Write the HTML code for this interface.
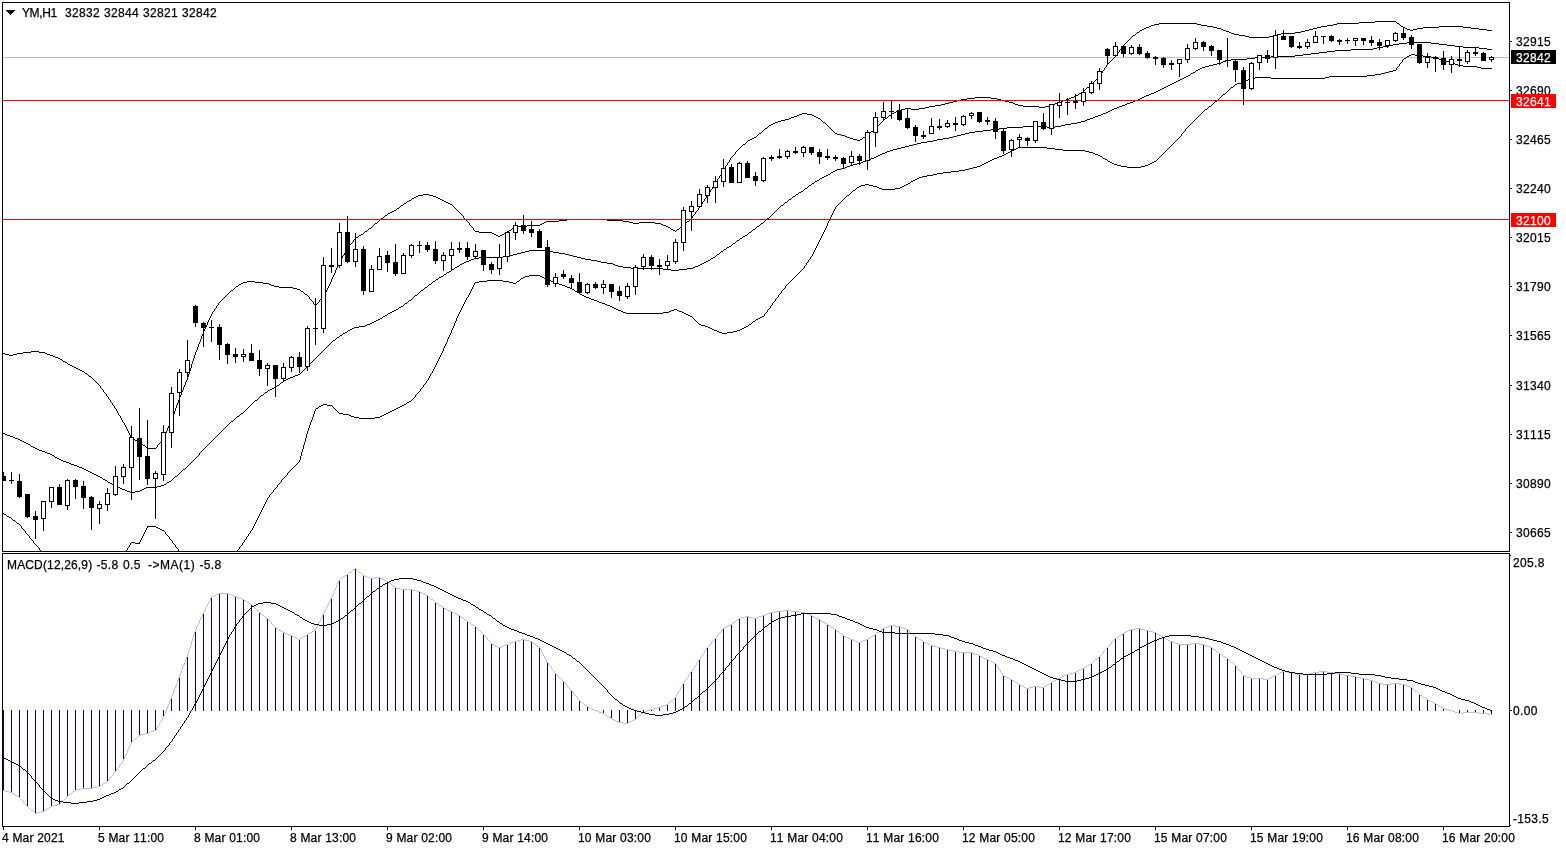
<!DOCTYPE html>
<html><head><meta charset="utf-8"><title>YM,H1</title>
<style>html,body{margin:0;padding:0;background:#fff;overflow:hidden}svg{display:block}text{font-family:"Liberation Sans",Arial,sans-serif;font-size:12px;fill:#000;stroke:#000;stroke-width:0.25px;letter-spacing:0.33px;font-kerning:none}.w{fill:#fff}</style></head><body>
<svg width="1566" height="850" viewBox="0 0 1566 850" shape-rendering="crispEdges">
<rect width="1566" height="850" fill="#fff"/>
<defs><clipPath id="cm"><rect x="3" y="3" width="1506" height="548"/></clipPath><clipPath id="ci"><rect x="3" y="554" width="1506" height="272"/></clipPath></defs>
<rect x="3" y="57" width="1506" height="1" fill="#c0c0c0"/>
<g clip-path="url(#cm)">
<path d="M3 353h2v1h-2zM5 354h4v1h-4zM9 355h3v1h-3zM11 355h2v1h-2zM13 354h4v1h-4zM17 353h3v1h-3zM19 353h4v1h-4zM23 352h5v1h-5zM27 352h4v1h-4zM31 351h5v1h-5zM35 351h4v1h-4zM39 352h5v1h-5zM43 352h2v1h-2zM45 353h2v1h-2zM47 354h3v1h-3zM50 355h2v1h-2zM51 355h2v1h-2zM53 356h2v1h-2zM55 357h3v1h-3zM58 358h2v1h-2zM59 358h1v1h-1zM60 359h2v1h-2zM62 360h1v1h-1zM63 361h2v1h-2zM65 362h2v1h-2zM67 363h1v1h-1zM67 363h1v1h-1zM68 364h2v1h-2zM70 365h2v1h-2zM72 366h2v1h-2zM74 367h2v1h-2zM75 367h1v1h-1zM76 368h2v1h-2zM78 369h2v1h-2zM80 370h2v1h-2zM82 371h2v1h-2zM83 371h1v1h-1zM84 372h1v1h-1zM85 373h2v1h-2zM87 374h1v1h-1zM88 375h1v1h-1zM89 376h2v1h-2zM91 377h1v1h-1zM91 377h1v1h-1zM92 378h1v1h-1zM93 379h1v1h-1zM94 380h1v1h-1zM95 381h1v1h-1zM96 382h1v1h-1zM97 383h1v1h-1zM98 384h1v1h-1zM99 385h1v1h-1zM99 385h1v1h-1zM100 386h1v2h-1zM101 388h1v1h-1zM102 389h1v1h-1zM103 390h1v2h-1zM104 392h1v1h-1zM105 393h1v1h-1zM106 394h1v2h-1zM107 396h1v1h-1zM107 396h1v1h-1zM108 397h1v2h-1zM109 399h1v1h-1zM110 400h1v2h-1zM111 402h1v1h-1zM112 403h1v2h-1zM113 405h1v1h-1zM114 406h1v2h-1zM115 408h1v1h-1zM115 408h1v1h-1zM116 409h1v2h-1zM117 411h1v2h-1zM118 413h1v2h-1zM119 415h1v1h-1zM120 416h1v2h-1zM121 418h1v2h-1zM122 420h1v2h-1zM123 422h1v1h-1zM123 422h1v1h-1zM124 423h1v2h-1zM125 425h1v2h-1zM126 427h1v2h-1zM127 429h1v2h-1zM128 431h1v2h-1zM129 433h1v2h-1zM130 435h1v2h-1zM131 437h1v2h-1zM131 438h2v1h-2zM133 439h2v1h-2zM135 440h3v1h-3zM138 441h2v1h-2zM139 441h1v1h-1zM140 442h1v1h-1zM141 443h1v1h-1zM142 444h1v1h-1zM143 445h2v1h-2zM145 446h1v1h-1zM146 447h1v1h-1zM147 448h1v1h-1zM147 448h9v1h-9zM155 448h1v1h-1zM156 447h1v1h-1zM157 445h1v2h-1zM158 444h1v1h-1zM159 443h1v1h-1zM160 442h1v1h-1zM161 440h1v2h-1zM162 439h1v1h-1zM163 438h1v1h-1zM163 437h1v2h-1zM164 435h1v2h-1zM165 433h1v2h-1zM166 431h1v2h-1zM167 428h1v3h-1zM168 426h1v2h-1zM169 424h1v2h-1zM170 422h1v2h-1zM171 420h1v2h-1zM171 419h1v2h-1zM172 416h1v3h-1zM173 414h1v2h-1zM174 411h1v3h-1zM175 408h1v3h-1zM176 405h1v3h-1zM177 403h1v2h-1zM178 400h1v3h-1zM179 398h1v2h-1zM179 397h1v2h-1zM180 395h1v2h-1zM181 392h1v3h-1zM182 390h1v2h-1zM183 387h1v3h-1zM184 385h1v2h-1zM185 382h1v3h-1zM186 380h1v2h-1zM187 378h1v2h-1zM187 377h1v2h-1zM188 374h1v3h-1zM189 371h1v3h-1zM190 368h1v3h-1zM191 364h1v4h-1zM192 361h1v3h-1zM193 358h1v3h-1zM194 355h1v3h-1zM195 353h1v2h-1zM195 352h1v2h-1zM196 350h1v2h-1zM197 347h1v3h-1zM198 344h1v3h-1zM199 342h1v2h-1zM200 339h1v3h-1zM201 336h1v3h-1zM202 334h1v2h-1zM203 332h1v2h-1zM203 331h1v2h-1zM204 329h1v2h-1zM205 327h1v2h-1zM206 325h1v2h-1zM207 322h1v3h-1zM208 320h1v2h-1zM209 318h1v2h-1zM210 316h1v2h-1zM211 314h1v2h-1zM211 314h1v1h-1zM212 312h1v2h-1zM213 311h1v1h-1zM214 309h1v2h-1zM215 308h1v1h-1zM216 306h1v2h-1zM217 305h1v1h-1zM218 303h1v2h-1zM219 302h1v1h-1zM219 302h1v1h-1zM220 301h1v1h-1zM221 300h1v1h-1zM222 299h1v1h-1zM223 298h1v1h-1zM224 297h1v1h-1zM225 296h1v1h-1zM226 295h1v1h-1zM227 294h1v1h-1zM227 294h1v1h-1zM228 293h1v1h-1zM229 292h1v1h-1zM230 291h1v1h-1zM231 290h2v1h-2zM233 289h1v1h-1zM234 288h1v1h-1zM235 287h1v1h-1zM235 287h1v1h-1zM236 286h2v1h-2zM238 285h1v1h-1zM239 284h2v1h-2zM241 283h2v1h-2zM243 282h1v1h-1zM243 282h4v1h-4zM247 281h5v1h-5zM251 281h4v1h-4zM255 282h5v1h-5zM259 282h4v1h-4zM263 283h5v1h-5zM267 283h2v1h-2zM269 284h2v1h-2zM271 285h3v1h-3zM274 286h2v1h-2zM275 286h4v1h-4zM279 287h5v1h-5zM283 287h9v1h-9zM291 287h2v1h-2zM293 288h4v1h-4zM297 289h3v1h-3zM299 289h1v1h-1zM300 290h1v1h-1zM301 291h2v1h-2zM303 292h1v1h-1zM304 293h1v1h-1zM305 294h2v1h-2zM307 295h1v1h-1zM307 295h1v1h-1zM308 296h1v1h-1zM309 297h1v2h-1zM310 299h1v1h-1zM311 300h1v1h-1zM312 301h1v1h-1zM313 302h1v2h-1zM314 304h1v1h-1zM315 305h1v1h-1zM315 305h1v1h-1zM316 304h1v1h-1zM317 303h1v1h-1zM318 302h1v1h-1zM319 300h1v2h-1zM320 299h1v1h-1zM321 298h1v1h-1zM322 297h1v1h-1zM323 296h1v1h-1zM323 296h1v1h-1zM324 294h1v2h-1zM325 292h1v2h-1zM326 290h1v2h-1zM327 288h1v2h-1zM328 286h1v2h-1zM329 284h1v2h-1zM330 282h1v2h-1zM331 280h1v2h-1zM331 279h1v2h-1zM332 277h1v2h-1zM333 275h1v2h-1zM334 273h1v2h-1zM335 270h1v3h-1zM336 268h1v2h-1zM337 266h1v2h-1zM338 264h1v2h-1zM339 262h1v2h-1zM339 262h1v1h-1zM340 260h1v2h-1zM341 258h1v2h-1zM342 256h1v2h-1zM343 255h1v1h-1zM344 253h1v2h-1zM345 251h1v2h-1zM346 249h1v2h-1zM347 248h1v1h-1zM347 248h1v1h-1zM348 247h1v1h-1zM349 245h1v2h-1zM350 244h1v1h-1zM351 243h1v1h-1zM352 242h1v1h-1zM353 240h1v2h-1zM354 239h1v1h-1zM355 238h1v1h-1zM355 238h1v1h-1zM356 237h2v1h-2zM358 236h1v1h-1zM359 235h2v1h-2zM361 234h2v1h-2zM363 233h1v1h-1zM363 233h1v1h-1zM364 232h1v1h-1zM365 231h2v1h-2zM367 230h1v1h-1zM368 229h1v1h-1zM369 228h2v1h-2zM371 227h1v1h-1zM371 227h1v1h-1zM372 226h1v1h-1zM373 225h1v1h-1zM374 224h1v1h-1zM375 223h2v1h-2zM377 222h1v1h-1zM378 221h1v1h-1zM379 220h1v1h-1zM379 220h1v1h-1zM380 219h1v1h-1zM381 218h2v1h-2zM383 217h1v1h-1zM384 216h1v1h-1zM385 215h2v1h-2zM387 214h1v1h-1zM387 214h1v1h-1zM388 213h2v1h-2zM390 212h2v1h-2zM392 211h2v1h-2zM394 210h2v1h-2zM395 210h1v1h-1zM396 209h1v1h-1zM397 208h2v1h-2zM399 207h1v1h-1zM400 206h1v1h-1zM401 205h2v1h-2zM403 204h1v1h-1zM403 204h1v1h-1zM404 203h2v1h-2zM406 202h1v1h-1zM407 201h2v1h-2zM409 200h2v1h-2zM411 199h1v1h-1zM411 199h1v1h-1zM412 198h2v1h-2zM414 197h2v1h-2zM416 196h2v1h-2zM418 195h2v1h-2zM419 195h4v1h-4zM423 194h5v1h-5zM427 194h2v1h-2zM429 195h4v1h-4zM433 196h3v1h-3zM435 196h1v1h-1zM436 197h2v1h-2zM438 198h2v1h-2zM440 199h2v1h-2zM442 200h2v1h-2zM443 200h1v1h-1zM444 201h2v1h-2zM446 202h2v1h-2zM448 203h2v1h-2zM450 204h2v1h-2zM451 204h1v1h-1zM452 205h1v1h-1zM453 206h1v1h-1zM454 207h1v1h-1zM455 208h1v1h-1zM456 209h1v1h-1zM457 210h1v1h-1zM458 211h1v1h-1zM459 212h1v1h-1zM459 212h1v1h-1zM460 213h1v1h-1zM461 214h1v1h-1zM462 215h1v1h-1zM463 216h1v2h-1zM464 218h1v1h-1zM465 219h1v1h-1zM466 220h1v1h-1zM467 221h1v1h-1zM467 221h1v1h-1zM468 222h1v1h-1zM469 223h1v2h-1zM470 225h1v1h-1zM471 226h1v1h-1zM472 227h1v1h-1zM473 228h1v2h-1zM474 230h1v1h-1zM475 231h1v1h-1zM475 231h4v1h-4zM479 232h5v1h-5zM483 232h9v1h-9zM491 232h1v1h-1zM492 233h2v1h-2zM494 234h2v1h-2zM496 235h2v1h-2zM498 236h2v1h-2zM499 236h1v1h-1zM500 235h2v1h-2zM502 234h2v1h-2zM504 233h2v1h-2zM506 232h2v1h-2zM507 232h1v1h-1zM508 231h1v1h-1zM509 230h2v1h-2zM511 229h1v1h-1zM512 228h1v1h-1zM513 227h2v1h-2zM515 226h1v1h-1zM515 226h9v1h-9zM523 226h4v1h-4zM527 225h5v1h-5zM531 225h9v1h-9zM539 225h1v1h-1zM540 224h2v1h-2zM542 223h2v1h-2zM544 222h2v1h-2zM546 221h2v1h-2zM547 221h9v1h-9zM555 221h4v1h-4zM559 220h5v1h-5zM563 220h4v1h-4zM567 219h5v1h-5zM571 219h9v1h-9zM579 219h9v1h-9zM587 219h9v1h-9zM595 219h9v1h-9zM603 219h4v1h-4zM607 220h5v1h-5zM611 220h9v1h-9zM619 220h4v1h-4zM623 221h5v1h-5zM627 221h2v1h-2zM629 222h4v1h-4zM633 223h3v1h-3zM635 223h4v1h-4zM639 222h5v1h-5zM643 222h9v1h-9zM651 222h4v1h-4zM655 223h5v1h-5zM659 223h2v1h-2zM661 224h2v1h-2zM663 225h3v1h-3zM666 226h2v1h-2zM667 226h1v1h-1zM668 227h2v1h-2zM670 228h1v1h-1zM671 229h2v1h-2zM673 230h2v1h-2zM675 231h1v1h-1zM675 231h1v1h-1zM676 230h1v1h-1zM677 229h2v1h-2zM679 228h1v1h-1zM680 227h1v1h-1zM681 226h2v1h-2zM683 225h1v1h-1zM683 225h1v1h-1zM684 224h1v1h-1zM685 223h1v1h-1zM686 222h1v1h-1zM687 221h2v1h-2zM689 220h1v1h-1zM690 219h1v1h-1zM691 218h1v1h-1zM691 218h1v1h-1zM692 216h1v2h-1zM693 215h1v1h-1zM694 214h1v1h-1zM695 212h1v2h-1zM696 211h1v1h-1zM697 210h1v1h-1zM698 208h1v2h-1zM699 207h1v1h-1zM699 207h1v1h-1zM700 205h1v2h-1zM701 204h1v1h-1zM702 202h1v2h-1zM703 201h1v1h-1zM704 199h1v2h-1zM705 198h1v1h-1zM706 196h1v2h-1zM707 195h1v1h-1zM707 195h1v1h-1zM708 193h1v2h-1zM709 192h1v1h-1zM710 190h1v2h-1zM711 189h1v1h-1zM712 187h1v2h-1zM713 186h1v1h-1zM714 184h1v2h-1zM715 183h1v1h-1zM715 183h1v1h-1zM716 181h1v2h-1zM717 179h1v2h-1zM718 178h1v1h-1zM719 176h1v2h-1zM720 175h1v1h-1zM721 173h1v2h-1zM722 171h1v2h-1zM723 170h1v1h-1zM723 170h1v1h-1zM724 168h1v2h-1zM725 166h1v2h-1zM726 165h1v1h-1zM727 163h1v2h-1zM728 162h1v1h-1zM729 160h1v2h-1zM730 158h1v2h-1zM731 157h1v1h-1zM731 157h1v1h-1zM732 156h1v1h-1zM733 155h1v1h-1zM734 154h1v1h-1zM735 152h1v2h-1zM736 151h1v1h-1zM737 150h1v1h-1zM738 149h1v1h-1zM739 148h1v1h-1zM739 148h1v1h-1zM740 147h1v1h-1zM741 146h1v1h-1zM742 145h1v1h-1zM743 144h2v1h-2zM745 143h1v1h-1zM746 142h1v1h-1zM747 141h1v1h-1zM747 141h1v1h-1zM748 140h2v1h-2zM750 139h2v1h-2zM752 138h2v1h-2zM754 137h2v1h-2zM755 137h1v1h-1zM756 136h1v1h-1zM757 135h1v1h-1zM758 134h1v1h-1zM759 133h2v1h-2zM761 132h1v1h-1zM762 131h1v1h-1zM763 130h1v1h-1zM763 130h1v1h-1zM764 129h1v1h-1zM765 128h2v1h-2zM767 127h1v1h-1zM768 126h1v1h-1zM769 125h2v1h-2zM771 124h1v1h-1zM771 124h2v1h-2zM773 123h2v1h-2zM775 122h3v1h-3zM778 121h2v1h-2zM779 121h2v1h-2zM781 120h4v1h-4zM785 119h3v1h-3zM787 119h2v1h-2zM789 118h2v1h-2zM791 117h3v1h-3zM794 116h2v1h-2zM795 116h2v1h-2zM797 115h2v1h-2zM799 114h3v1h-3zM802 113h2v1h-2zM803 113h4v1h-4zM807 114h5v1h-5zM811 114h1v1h-1zM812 115h2v1h-2zM814 116h2v1h-2zM816 117h2v1h-2zM818 118h2v1h-2zM819 118h1v1h-1zM820 119h1v1h-1zM821 120h1v1h-1zM822 121h1v1h-1zM823 122h2v1h-2zM825 123h1v1h-1zM826 124h1v1h-1zM827 125h1v1h-1zM827 125h1v1h-1zM828 126h1v1h-1zM829 127h1v1h-1zM830 128h1v1h-1zM831 129h1v1h-1zM832 130h1v1h-1zM833 131h1v1h-1zM834 132h1v1h-1zM835 133h1v1h-1zM835 133h2v1h-2zM837 134h4v1h-4zM841 135h3v1h-3zM843 135h2v1h-2zM845 136h2v1h-2zM847 137h3v1h-3zM850 138h2v1h-2zM851 138h2v1h-2zM853 139h4v1h-4zM857 140h3v1h-3zM859 140h1v1h-1zM860 139h2v1h-2zM862 138h1v1h-1zM863 137h2v1h-2zM865 136h2v1h-2zM867 135h1v1h-1zM867 135h1v1h-1zM868 134h1v1h-1zM869 133h1v1h-1zM870 132h1v1h-1zM871 131h2v1h-2zM873 130h1v1h-1zM874 129h1v1h-1zM875 128h1v1h-1zM875 128h1v1h-1zM876 127h1v1h-1zM877 126h1v1h-1zM878 125h1v1h-1zM879 124h1v1h-1zM880 123h1v1h-1zM881 122h1v1h-1zM882 121h1v1h-1zM883 120h1v1h-1zM883 120h1v1h-1zM884 119h1v1h-1zM885 118h2v1h-2zM887 117h1v1h-1zM888 116h1v1h-1zM889 115h2v1h-2zM891 114h1v1h-1zM891 114h1v1h-1zM892 113h2v1h-2zM894 112h2v1h-2zM896 111h2v1h-2zM898 110h2v1h-2zM899 110h2v1h-2zM901 109h4v1h-4zM905 108h3v1h-3zM907 108h4v1h-4zM911 109h5v1h-5zM915 109h4v1h-4zM919 108h5v1h-5zM923 108h2v1h-2zM925 107h4v1h-4zM929 106h3v1h-3zM931 106h4v1h-4zM935 105h5v1h-5zM939 105h2v1h-2zM941 104h4v1h-4zM945 103h3v1h-3zM947 103h2v1h-2zM949 102h4v1h-4zM953 101h3v1h-3zM955 101h2v1h-2zM957 100h4v1h-4zM961 99h3v1h-3zM963 99h4v1h-4zM967 98h5v1h-5zM971 98h4v1h-4zM975 97h5v1h-5zM979 97h9v1h-9zM987 97h4v1h-4zM991 98h5v1h-5zM995 98h2v1h-2zM997 99h4v1h-4zM1001 100h3v1h-3zM1003 100h2v1h-2zM1005 101h4v1h-4zM1009 102h3v1h-3zM1011 102h2v1h-2zM1013 103h2v1h-2zM1015 104h3v1h-3zM1018 105h2v1h-2zM1019 105h4v1h-4zM1023 106h5v1h-5zM1027 106h9v1h-9zM1035 106h4v1h-4zM1039 107h5v1h-5zM1043 107h2v1h-2zM1045 106h4v1h-4zM1049 105h3v1h-3zM1051 105h2v1h-2zM1053 104h2v1h-2zM1055 103h3v1h-3zM1058 102h2v1h-2zM1059 102h2v1h-2zM1061 101h2v1h-2zM1063 100h3v1h-3zM1066 99h2v1h-2zM1067 99h2v1h-2zM1069 98h2v1h-2zM1071 97h3v1h-3zM1074 96h2v1h-2zM1075 96h1v1h-1zM1076 95h2v1h-2zM1078 94h1v1h-1zM1079 93h2v1h-2zM1081 92h2v1h-2zM1083 91h1v1h-1zM1083 91h1v1h-1zM1084 90h1v1h-1zM1085 89h1v1h-1zM1086 88h1v1h-1zM1087 87h2v1h-2zM1089 86h1v1h-1zM1090 85h1v1h-1zM1091 84h1v1h-1zM1091 84h1v1h-1zM1092 83h1v1h-1zM1093 82h1v1h-1zM1094 81h1v1h-1zM1095 80h1v1h-1zM1096 79h1v1h-1zM1097 78h1v1h-1zM1098 77h1v1h-1zM1099 76h1v1h-1zM1099 76h1v1h-1zM1100 74h1v2h-1zM1101 73h1v1h-1zM1102 71h1v2h-1zM1103 70h1v1h-1zM1104 68h1v2h-1zM1105 67h1v1h-1zM1106 65h1v2h-1zM1107 64h1v1h-1zM1107 64h1v1h-1zM1108 63h1v1h-1zM1109 62h1v1h-1zM1110 61h1v1h-1zM1111 60h1v1h-1zM1112 59h1v1h-1zM1113 58h1v1h-1zM1114 57h1v1h-1zM1115 56h1v1h-1zM1115 56h1v1h-1zM1116 54h1v2h-1zM1117 53h1v1h-1zM1118 52h1v1h-1zM1119 50h1v2h-1zM1120 49h1v1h-1zM1121 48h1v1h-1zM1122 46h1v2h-1zM1123 45h1v1h-1zM1123 45h1v1h-1zM1124 44h1v1h-1zM1125 43h1v1h-1zM1126 42h1v1h-1zM1127 41h1v1h-1zM1128 40h1v1h-1zM1129 39h1v1h-1zM1130 38h1v1h-1zM1131 37h1v1h-1zM1131 37h1v1h-1zM1132 36h1v1h-1zM1133 35h2v1h-2zM1135 34h1v1h-1zM1136 33h1v1h-1zM1137 32h2v1h-2zM1139 31h1v1h-1zM1139 31h1v1h-1zM1140 30h2v1h-2zM1142 29h2v1h-2zM1144 28h2v1h-2zM1146 27h2v1h-2zM1147 27h2v1h-2zM1149 26h2v1h-2zM1151 25h3v1h-3zM1154 24h2v1h-2zM1155 24h4v1h-4zM1159 23h5v1h-5zM1163 23h9v1h-9zM1171 23h9v1h-9zM1179 23h9v1h-9zM1187 23h9v1h-9zM1195 23h2v1h-2zM1197 24h4v1h-4zM1201 25h3v1h-3zM1203 25h4v1h-4zM1207 26h5v1h-5zM1211 26h2v1h-2zM1213 27h4v1h-4zM1217 28h3v1h-3zM1219 28h2v1h-2zM1221 29h2v1h-2zM1223 30h3v1h-3zM1226 31h2v1h-2zM1227 31h2v1h-2zM1229 32h2v1h-2zM1231 33h3v1h-3zM1234 34h2v1h-2zM1235 34h4v1h-4zM1239 35h5v1h-5zM1243 35h2v1h-2zM1245 36h4v1h-4zM1249 37h3v1h-3zM1251 37h9v1h-9zM1259 37h9v1h-9zM1267 37h2v1h-2zM1269 36h4v1h-4zM1273 35h3v1h-3zM1275 35h2v1h-2zM1277 34h4v1h-4zM1281 33h3v1h-3zM1283 33h9v1h-9zM1291 33h4v1h-4zM1295 32h5v1h-5zM1299 32h2v1h-2zM1301 31h4v1h-4zM1305 30h3v1h-3zM1307 30h2v1h-2zM1309 29h4v1h-4zM1313 28h3v1h-3zM1315 28h2v1h-2zM1317 27h4v1h-4zM1321 26h3v1h-3zM1323 26h4v1h-4zM1327 25h5v1h-5zM1331 25h2v1h-2zM1333 24h4v1h-4zM1337 23h3v1h-3zM1339 23h9v1h-9zM1347 23h9v1h-9zM1355 23h4v1h-4zM1359 22h5v1h-5zM1363 22h9v1h-9zM1371 22h4v1h-4zM1375 21h5v1h-5zM1379 21h9v1h-9zM1387 21h9v1h-9zM1395 21h1v1h-1zM1396 22h1v1h-1zM1397 23h2v1h-2zM1399 24h1v1h-1zM1400 25h1v1h-1zM1401 26h2v1h-2zM1403 27h1v1h-1zM1403 27h2v1h-2zM1405 28h2v1h-2zM1407 29h3v1h-3zM1410 30h2v1h-2zM1411 30h2v1h-2zM1413 29h4v1h-4zM1417 28h3v1h-3zM1419 28h4v1h-4zM1423 27h5v1h-5zM1427 27h9v1h-9zM1435 27h4v1h-4zM1439 26h5v1h-5zM1443 26h9v1h-9zM1451 26h9v1h-9zM1459 26h4v1h-4zM1463 27h5v1h-5zM1467 27h4v1h-4zM1471 28h5v1h-5zM1475 28h4v1h-4zM1479 29h5v1h-5zM1483 29h4v1h-4zM1487 30h5v1h-5z" fill="#000"/>
<path d="M3 433h2v1h-2zM5 434h2v1h-2zM7 435h3v1h-3zM10 436h2v1h-2zM11 436h2v1h-2zM13 437h2v1h-2zM15 438h3v1h-3zM18 439h2v1h-2zM19 439h1v1h-1zM20 440h2v1h-2zM22 441h2v1h-2zM24 442h2v1h-2zM26 443h2v1h-2zM27 443h1v1h-1zM28 444h2v1h-2zM30 445h1v1h-1zM31 446h2v1h-2zM33 447h2v1h-2zM35 448h1v1h-1zM35 448h2v1h-2zM37 449h2v1h-2zM39 450h3v1h-3zM42 451h2v1h-2zM43 451h2v1h-2zM45 452h2v1h-2zM47 453h3v1h-3zM50 454h2v1h-2zM51 454h1v1h-1zM52 455h2v1h-2zM54 456h1v1h-1zM55 457h2v1h-2zM57 458h2v1h-2zM59 459h1v1h-1zM59 459h2v1h-2zM61 460h2v1h-2zM63 461h3v1h-3zM66 462h2v1h-2zM67 462h2v1h-2zM69 463h2v1h-2zM71 464h3v1h-3zM74 465h2v1h-2zM75 465h2v1h-2zM77 466h2v1h-2zM79 467h3v1h-3zM82 468h2v1h-2zM83 468h1v1h-1zM84 469h2v1h-2zM86 470h2v1h-2zM88 471h2v1h-2zM90 472h2v1h-2zM91 472h1v1h-1zM92 473h2v1h-2zM94 474h2v1h-2zM96 475h2v1h-2zM98 476h2v1h-2zM99 476h1v1h-1zM100 477h2v1h-2zM102 478h1v1h-1zM103 479h2v1h-2zM105 480h2v1h-2zM107 481h1v1h-1zM107 481h1v1h-1zM108 482h2v1h-2zM110 483h2v1h-2zM112 484h2v1h-2zM114 485h2v1h-2zM115 485h1v1h-1zM116 486h2v1h-2zM118 487h2v1h-2zM120 488h2v1h-2zM122 489h2v1h-2zM123 489h2v1h-2zM125 490h2v1h-2zM127 491h3v1h-3zM130 492h2v1h-2zM131 492h4v1h-4zM135 491h5v1h-5zM139 491h1v1h-1zM140 490h2v1h-2zM142 489h2v1h-2zM144 488h2v1h-2zM146 487h2v1h-2zM147 487h9v1h-9zM155 487h2v1h-2zM157 486h4v1h-4zM161 485h3v1h-3zM163 485h1v1h-1zM164 484h2v1h-2zM166 483h1v1h-1zM167 482h2v1h-2zM169 481h2v1h-2zM171 480h1v1h-1zM171 480h1v1h-1zM172 479h1v1h-1zM173 478h1v1h-1zM174 477h1v1h-1zM175 476h2v1h-2zM177 475h1v1h-1zM178 474h1v1h-1zM179 473h1v1h-1zM179 473h1v1h-1zM180 472h1v1h-1zM181 471h1v1h-1zM182 470h1v1h-1zM183 469h2v1h-2zM185 468h1v1h-1zM186 467h1v1h-1zM187 466h1v1h-1zM187 466h1v1h-1zM188 465h1v1h-1zM189 464h1v1h-1zM190 463h1v1h-1zM191 462h1v1h-1zM192 461h1v1h-1zM193 460h1v1h-1zM194 459h1v1h-1zM195 458h1v1h-1zM195 458h1v1h-1zM196 457h1v1h-1zM197 456h1v1h-1zM198 455h1v1h-1zM199 453h1v2h-1zM200 452h1v1h-1zM201 451h1v1h-1zM202 450h1v1h-1zM203 449h1v1h-1zM203 449h1v1h-1zM204 448h1v1h-1zM205 447h1v1h-1zM206 446h1v1h-1zM207 445h1v1h-1zM208 444h1v1h-1zM209 443h1v1h-1zM210 442h1v1h-1zM211 441h1v1h-1zM211 441h1v1h-1zM212 440h1v1h-1zM213 439h1v1h-1zM214 438h1v1h-1zM215 437h1v1h-1zM216 436h1v1h-1zM217 435h1v1h-1zM218 434h1v1h-1zM219 433h1v1h-1zM219 433h1v1h-1zM220 432h1v1h-1zM221 431h1v1h-1zM222 430h1v1h-1zM223 429h1v1h-1zM224 428h1v1h-1zM225 427h1v1h-1zM226 426h1v1h-1zM227 425h1v1h-1zM227 425h1v1h-1zM228 424h1v1h-1zM229 423h1v1h-1zM230 422h1v1h-1zM231 421h2v1h-2zM233 420h1v1h-1zM234 419h1v1h-1zM235 418h1v1h-1zM235 418h1v1h-1zM236 417h1v1h-1zM237 416h2v1h-2zM239 415h1v1h-1zM240 414h1v1h-1zM241 413h2v1h-2zM243 412h1v1h-1zM243 412h1v1h-1zM244 411h1v1h-1zM245 410h1v1h-1zM246 409h1v1h-1zM247 408h1v1h-1zM248 407h1v1h-1zM249 406h1v1h-1zM250 405h1v1h-1zM251 404h1v1h-1zM251 404h1v1h-1zM252 403h1v1h-1zM253 402h1v1h-1zM254 401h1v1h-1zM255 400h2v1h-2zM257 399h1v1h-1zM258 398h1v1h-1zM259 397h1v1h-1zM259 397h1v1h-1zM260 396h1v1h-1zM261 395h2v1h-2zM263 394h1v1h-1zM264 393h1v1h-1zM265 392h2v1h-2zM267 391h1v1h-1zM267 391h1v1h-1zM268 390h2v1h-2zM270 389h2v1h-2zM272 388h2v1h-2zM274 387h2v1h-2zM275 387h1v1h-1zM276 386h1v1h-1zM277 385h2v1h-2zM279 384h1v1h-1zM280 383h1v1h-1zM281 382h2v1h-2zM283 381h1v1h-1zM283 381h1v1h-1zM284 380h2v1h-2zM286 379h2v1h-2zM288 378h2v1h-2zM290 377h2v1h-2zM291 377h2v1h-2zM293 376h2v1h-2zM295 375h3v1h-3zM298 374h2v1h-2zM299 374h1v1h-1zM300 373h1v1h-1zM301 372h1v1h-1zM302 371h1v1h-1zM303 370h1v1h-1zM304 369h1v1h-1zM305 368h1v1h-1zM306 367h1v1h-1zM307 366h1v1h-1zM307 366h1v1h-1zM308 365h1v1h-1zM309 364h1v1h-1zM310 363h1v1h-1zM311 362h1v1h-1zM312 361h1v1h-1zM313 360h1v1h-1zM314 359h1v1h-1zM315 358h1v1h-1zM315 358h1v1h-1zM316 357h1v1h-1zM317 356h1v1h-1zM318 355h1v1h-1zM319 354h1v1h-1zM320 353h1v1h-1zM321 352h1v1h-1zM322 351h1v1h-1zM323 350h1v1h-1zM323 350h1v1h-1zM324 349h1v1h-1zM325 348h1v1h-1zM326 347h1v1h-1zM327 346h1v1h-1zM328 345h1v1h-1zM329 344h1v1h-1zM330 343h1v1h-1zM331 342h1v1h-1zM331 342h1v1h-1zM332 341h1v1h-1zM333 340h2v1h-2zM335 339h1v1h-1zM336 338h1v1h-1zM337 337h2v1h-2zM339 336h1v1h-1zM339 336h1v1h-1zM340 335h2v1h-2zM342 334h1v1h-1zM343 333h2v1h-2zM345 332h2v1h-2zM347 331h1v1h-1zM347 331h1v1h-1zM348 330h2v1h-2zM350 329h2v1h-2zM352 328h2v1h-2zM354 327h2v1h-2zM355 327h4v1h-4zM359 326h5v1h-5zM363 326h2v1h-2zM365 325h2v1h-2zM367 324h3v1h-3zM370 323h2v1h-2zM371 323h1v1h-1zM372 322h2v1h-2zM374 321h2v1h-2zM376 320h2v1h-2zM378 319h2v1h-2zM379 319h1v1h-1zM380 318h2v1h-2zM382 317h1v1h-1zM383 316h2v1h-2zM385 315h2v1h-2zM387 314h1v1h-1zM387 314h1v1h-1zM388 313h2v1h-2zM390 312h2v1h-2zM392 311h2v1h-2zM394 310h2v1h-2zM395 310h1v1h-1zM396 309h2v1h-2zM398 308h1v1h-1zM399 307h2v1h-2zM401 306h2v1h-2zM403 305h1v1h-1zM403 305h1v1h-1zM404 304h1v1h-1zM405 303h2v1h-2zM407 302h1v1h-1zM408 301h1v1h-1zM409 300h2v1h-2zM411 299h1v1h-1zM411 299h1v1h-1zM412 298h1v1h-1zM413 297h1v1h-1zM414 296h1v1h-1zM415 295h2v1h-2zM417 294h1v1h-1zM418 293h1v1h-1zM419 292h1v1h-1zM419 292h1v1h-1zM420 291h1v1h-1zM421 290h2v1h-2zM423 289h1v1h-1zM424 288h1v1h-1zM425 287h2v1h-2zM427 286h1v1h-1zM427 286h1v1h-1zM428 285h1v1h-1zM429 284h2v1h-2zM431 283h1v1h-1zM432 282h1v1h-1zM433 281h2v1h-2zM435 280h1v1h-1zM435 280h1v1h-1zM436 279h2v1h-2zM438 278h1v1h-1zM439 277h2v1h-2zM441 276h2v1h-2zM443 275h1v1h-1zM443 275h1v1h-1zM444 274h2v1h-2zM446 273h1v1h-1zM447 272h2v1h-2zM449 271h2v1h-2zM451 270h1v1h-1zM451 270h1v1h-1zM452 269h2v1h-2zM454 268h1v1h-1zM455 267h2v1h-2zM457 266h2v1h-2zM459 265h1v1h-1zM459 265h1v1h-1zM460 264h2v1h-2zM462 263h2v1h-2zM464 262h2v1h-2zM466 261h2v1h-2zM467 261h2v1h-2zM469 260h2v1h-2zM471 259h3v1h-3zM474 258h2v1h-2zM475 258h4v1h-4zM479 257h5v1h-5zM483 257h9v1h-9zM491 257h9v1h-9zM499 257h4v1h-4zM503 256h5v1h-5zM507 256h2v1h-2zM509 255h4v1h-4zM513 254h3v1h-3zM515 254h2v1h-2zM517 253h4v1h-4zM521 252h3v1h-3zM523 252h2v1h-2zM525 251h4v1h-4zM529 250h3v1h-3zM531 250h9v1h-9zM539 250h9v1h-9zM547 250h2v1h-2zM549 251h4v1h-4zM553 252h3v1h-3zM555 252h4v1h-4zM559 253h5v1h-5zM563 253h2v1h-2zM565 254h4v1h-4zM569 255h3v1h-3zM571 255h2v1h-2zM573 256h4v1h-4zM577 257h3v1h-3zM579 257h2v1h-2zM581 258h4v1h-4zM585 259h3v1h-3zM587 259h4v1h-4zM591 260h5v1h-5zM595 260h2v1h-2zM597 261h4v1h-4zM601 262h3v1h-3zM603 262h4v1h-4zM607 263h5v1h-5zM611 263h2v1h-2zM613 264h2v1h-2zM615 265h3v1h-3zM618 266h2v1h-2zM619 266h4v1h-4zM623 267h5v1h-5zM627 267h4v1h-4zM631 268h5v1h-5zM635 268h9v1h-9zM643 268h9v1h-9zM651 268h9v1h-9zM659 268h4v1h-4zM663 269h5v1h-5zM667 269h4v1h-4zM671 270h5v1h-5zM675 270h4v1h-4zM679 269h5v1h-5zM683 269h4v1h-4zM687 268h5v1h-5zM691 268h2v1h-2zM693 267h2v1h-2zM695 266h3v1h-3zM698 265h2v1h-2zM699 265h1v1h-1zM700 264h2v1h-2zM702 263h2v1h-2zM704 262h2v1h-2zM706 261h2v1h-2zM707 261h1v1h-1zM708 260h2v1h-2zM710 259h1v1h-1zM711 258h2v1h-2zM713 257h2v1h-2zM715 256h1v1h-1zM715 256h1v1h-1zM716 255h1v1h-1zM717 254h2v1h-2zM719 253h1v1h-1zM720 252h1v1h-1zM721 251h2v1h-2zM723 250h1v1h-1zM723 250h1v1h-1zM724 249h2v1h-2zM726 248h1v1h-1zM727 247h2v1h-2zM729 246h2v1h-2zM731 245h1v1h-1zM731 245h1v1h-1zM732 244h1v1h-1zM733 243h2v1h-2zM735 242h1v1h-1zM736 241h1v1h-1zM737 240h2v1h-2zM739 239h1v1h-1zM739 239h1v1h-1zM740 238h2v1h-2zM742 237h1v1h-1zM743 236h2v1h-2zM745 235h2v1h-2zM747 234h1v1h-1zM747 234h1v1h-1zM748 233h1v1h-1zM749 232h2v1h-2zM751 231h1v1h-1zM752 230h1v1h-1zM753 229h2v1h-2zM755 228h1v1h-1zM755 228h1v1h-1zM756 227h1v1h-1zM757 226h2v1h-2zM759 225h1v1h-1zM760 224h1v1h-1zM761 223h2v1h-2zM763 222h1v1h-1zM763 222h1v1h-1zM764 221h1v1h-1zM765 220h1v1h-1zM766 219h1v1h-1zM767 218h2v1h-2zM769 217h1v1h-1zM770 216h1v1h-1zM771 215h1v1h-1zM771 215h1v1h-1zM772 214h1v1h-1zM773 213h1v1h-1zM774 212h1v1h-1zM775 211h1v1h-1zM776 210h1v1h-1zM777 209h1v1h-1zM778 208h1v1h-1zM779 207h1v1h-1zM779 207h1v1h-1zM780 206h1v1h-1zM781 205h2v1h-2zM783 204h1v1h-1zM784 203h1v1h-1zM785 202h2v1h-2zM787 201h1v1h-1zM787 201h1v1h-1zM788 200h1v1h-1zM789 199h2v1h-2zM791 198h1v1h-1zM792 197h1v1h-1zM793 196h2v1h-2zM795 195h1v1h-1zM795 195h1v1h-1zM796 194h2v1h-2zM798 193h1v1h-1zM799 192h2v1h-2zM801 191h2v1h-2zM803 190h1v1h-1zM803 190h1v1h-1zM804 189h1v1h-1zM805 188h2v1h-2zM807 187h1v1h-1zM808 186h1v1h-1zM809 185h2v1h-2zM811 184h1v1h-1zM811 184h1v1h-1zM812 183h2v1h-2zM814 182h1v1h-1zM815 181h2v1h-2zM817 180h2v1h-2zM819 179h1v1h-1zM819 179h1v1h-1zM820 178h2v1h-2zM822 177h2v1h-2zM824 176h2v1h-2zM826 175h2v1h-2zM827 175h1v1h-1zM828 174h2v1h-2zM830 173h1v1h-1zM831 172h2v1h-2zM833 171h2v1h-2zM835 170h1v1h-1zM835 170h2v1h-2zM837 169h4v1h-4zM841 168h3v1h-3zM843 168h2v1h-2zM845 167h2v1h-2zM847 166h3v1h-3zM850 165h2v1h-2zM851 165h2v1h-2zM853 164h4v1h-4zM857 163h3v1h-3zM859 163h2v1h-2zM861 162h2v1h-2zM863 161h3v1h-3zM866 160h2v1h-2zM867 160h2v1h-2zM869 159h2v1h-2zM871 158h3v1h-3zM874 157h2v1h-2zM875 157h1v1h-1zM876 156h2v1h-2zM878 155h2v1h-2zM880 154h2v1h-2zM882 153h2v1h-2zM883 153h2v1h-2zM885 152h2v1h-2zM887 151h3v1h-3zM890 150h2v1h-2zM891 150h2v1h-2zM893 149h4v1h-4zM897 148h3v1h-3zM899 148h2v1h-2zM901 147h4v1h-4zM905 146h3v1h-3zM907 146h2v1h-2zM909 145h4v1h-4zM913 144h3v1h-3zM915 144h2v1h-2zM917 143h4v1h-4zM921 142h3v1h-3zM923 142h4v1h-4zM927 141h5v1h-5zM931 141h2v1h-2zM933 140h4v1h-4zM937 139h3v1h-3zM939 139h4v1h-4zM943 138h5v1h-5zM947 138h2v1h-2zM949 137h4v1h-4zM953 136h3v1h-3zM955 136h2v1h-2zM957 135h4v1h-4zM961 134h3v1h-3zM963 134h2v1h-2zM965 133h4v1h-4zM969 132h3v1h-3zM971 132h4v1h-4zM975 131h5v1h-5zM979 131h4v1h-4zM983 130h5v1h-5zM987 130h4v1h-4zM991 129h5v1h-5zM995 129h4v1h-4zM999 128h5v1h-5zM1003 128h4v1h-4zM1007 127h5v1h-5zM1011 127h9v1h-9zM1019 127h4v1h-4zM1023 126h5v1h-5zM1027 126h9v1h-9zM1035 126h9v1h-9zM1043 126h4v1h-4zM1047 127h5v1h-5zM1051 127h4v1h-4zM1055 126h5v1h-5zM1059 126h2v1h-2zM1061 125h4v1h-4zM1065 124h3v1h-3zM1067 124h4v1h-4zM1071 123h5v1h-5zM1075 123h2v1h-2zM1077 122h4v1h-4zM1081 121h3v1h-3zM1083 121h2v1h-2zM1085 120h2v1h-2zM1087 119h3v1h-3zM1090 118h2v1h-2zM1091 118h2v1h-2zM1093 117h2v1h-2zM1095 116h3v1h-3zM1098 115h2v1h-2zM1099 115h2v1h-2zM1101 114h2v1h-2zM1103 113h3v1h-3zM1106 112h2v1h-2zM1107 112h1v1h-1zM1108 111h2v1h-2zM1110 110h2v1h-2zM1112 109h2v1h-2zM1114 108h2v1h-2zM1115 108h2v1h-2zM1117 107h2v1h-2zM1119 106h3v1h-3zM1122 105h2v1h-2zM1123 105h2v1h-2zM1125 104h2v1h-2zM1127 103h3v1h-3zM1130 102h2v1h-2zM1131 102h2v1h-2zM1133 101h2v1h-2zM1135 100h3v1h-3zM1138 99h2v1h-2zM1139 99h1v1h-1zM1140 98h2v1h-2zM1142 97h2v1h-2zM1144 96h2v1h-2zM1146 95h2v1h-2zM1147 95h2v1h-2zM1149 94h2v1h-2zM1151 93h3v1h-3zM1154 92h2v1h-2zM1155 92h1v1h-1zM1156 91h2v1h-2zM1158 90h2v1h-2zM1160 89h2v1h-2zM1162 88h2v1h-2zM1163 88h1v1h-1zM1164 87h2v1h-2zM1166 86h2v1h-2zM1168 85h2v1h-2zM1170 84h2v1h-2zM1171 84h1v1h-1zM1172 83h2v1h-2zM1174 82h2v1h-2zM1176 81h2v1h-2zM1178 80h2v1h-2zM1179 80h1v1h-1zM1180 79h2v1h-2zM1182 78h2v1h-2zM1184 77h2v1h-2zM1186 76h2v1h-2zM1187 76h1v1h-1zM1188 75h2v1h-2zM1190 74h1v1h-1zM1191 73h2v1h-2zM1193 72h2v1h-2zM1195 71h1v1h-1zM1195 71h1v1h-1zM1196 70h2v1h-2zM1198 69h2v1h-2zM1200 68h2v1h-2zM1202 67h2v1h-2zM1203 67h2v1h-2zM1205 66h4v1h-4zM1209 65h3v1h-3zM1211 65h2v1h-2zM1213 64h4v1h-4zM1217 63h3v1h-3zM1219 63h2v1h-2zM1221 62h2v1h-2zM1223 61h3v1h-3zM1226 60h2v1h-2zM1227 60h4v1h-4zM1231 59h5v1h-5zM1235 59h9v1h-9zM1243 59h4v1h-4zM1247 58h5v1h-5zM1251 58h4v1h-4zM1255 57h5v1h-5zM1259 57h9v1h-9zM1267 57h4v1h-4zM1271 56h5v1h-5zM1275 56h9v1h-9zM1283 56h9v1h-9zM1291 56h4v1h-4zM1295 55h5v1h-5zM1299 55h4v1h-4zM1303 54h5v1h-5zM1307 54h4v1h-4zM1311 53h5v1h-5zM1315 53h4v1h-4zM1319 52h5v1h-5zM1323 52h4v1h-4zM1327 51h5v1h-5zM1331 51h4v1h-4zM1335 50h5v1h-5zM1339 50h9v1h-9zM1347 50h4v1h-4zM1351 49h5v1h-5zM1355 49h9v1h-9zM1363 49h9v1h-9zM1371 49h2v1h-2zM1373 48h4v1h-4zM1377 47h3v1h-3zM1379 47h4v1h-4zM1383 46h5v1h-5zM1387 46h2v1h-2zM1389 45h4v1h-4zM1393 44h3v1h-3zM1395 44h4v1h-4zM1399 43h5v1h-5zM1403 43h4v1h-4zM1407 42h5v1h-5zM1411 42h9v1h-9zM1419 42h9v1h-9zM1427 42h4v1h-4zM1431 43h5v1h-5zM1435 43h4v1h-4zM1439 44h5v1h-5zM1443 44h4v1h-4zM1447 45h5v1h-5zM1451 45h4v1h-4zM1455 46h5v1h-5zM1459 46h4v1h-4zM1463 47h5v1h-5zM1467 47h9v1h-9zM1475 47h4v1h-4zM1479 48h5v1h-5zM1483 48h4v1h-4zM1487 49h5v1h-5z" fill="#000"/>
<path d="M3 513h1v1h-1zM4 514h2v1h-2zM6 515h1v1h-1zM7 516h2v1h-2zM9 517h2v1h-2zM11 518h1v1h-1zM11 518h1v1h-1zM12 519h1v1h-1zM13 520h2v1h-2zM15 521h1v1h-1zM16 522h1v1h-1zM17 523h2v1h-2zM19 524h1v1h-1zM19 524h1v1h-1zM20 525h1v1h-1zM21 526h1v2h-1zM22 528h1v1h-1zM23 529h1v1h-1zM24 530h1v1h-1zM25 531h1v2h-1zM26 533h1v1h-1zM27 534h1v1h-1zM27 534h1v1h-1zM28 535h1v1h-1zM29 536h1v2h-1zM30 538h1v1h-1zM31 539h1v1h-1zM32 540h1v1h-1zM33 541h1v2h-1zM34 543h1v1h-1zM35 544h1v1h-1zM35 544h1v1h-1zM36 545h1v1h-1zM37 546h1v1h-1zM38 547h1v1h-1zM39 548h1v2h-1zM40 550h1v1h-1zM126 550h1v1h-1zM127 548h1v2h-1zM128 547h1v1h-1zM129 545h1v2h-1zM130 543h1v2h-1zM131 542h1v1h-1zM131 542h4v1h-4zM135 543h5v1h-5zM139 542h1v2h-1zM140 540h1v2h-1zM141 538h1v2h-1zM142 536h1v2h-1zM143 534h1v2h-1zM144 532h1v2h-1zM145 530h1v2h-1zM146 528h1v2h-1zM147 526h1v2h-1zM147 526h9v1h-9zM155 526h1v1h-1zM156 527h2v1h-2zM158 528h2v1h-2zM160 529h2v1h-2zM162 530h2v1h-2zM163 530h1v1h-1zM164 531h1v1h-1zM165 532h1v2h-1zM166 534h1v1h-1zM167 535h1v1h-1zM168 536h1v1h-1zM169 537h1v2h-1zM170 539h1v1h-1zM171 540h1v1h-1zM171 540h1v1h-1zM172 541h1v2h-1zM173 543h1v1h-1zM174 544h1v1h-1zM175 545h1v2h-1zM176 547h1v1h-1zM177 548h1v1h-1zM178 549h1v2h-1zM237 550h1v1h-1zM238 549h1v1h-1zM239 547h1v2h-1zM240 546h1v1h-1zM241 545h1v1h-1zM242 543h1v2h-1zM243 542h1v1h-1zM243 542h1v1h-1zM244 540h1v2h-1zM245 539h1v1h-1zM246 537h1v2h-1zM247 536h1v1h-1zM248 534h1v2h-1zM249 533h1v1h-1zM250 531h1v2h-1zM251 530h1v1h-1zM251 530h1v1h-1zM252 528h1v2h-1zM253 526h1v2h-1zM254 524h1v2h-1zM255 522h1v2h-1zM256 520h1v2h-1zM257 518h1v2h-1zM258 516h1v2h-1zM259 514h1v2h-1zM259 514h1v1h-1zM260 512h1v2h-1zM261 510h1v2h-1zM262 508h1v2h-1zM263 506h1v2h-1zM264 504h1v2h-1zM265 502h1v2h-1zM266 500h1v2h-1zM267 498h1v2h-1zM267 498h1v1h-1zM268 497h1v1h-1zM269 495h1v2h-1zM270 494h1v1h-1zM271 493h1v1h-1zM272 492h1v1h-1zM273 490h1v2h-1zM274 489h1v1h-1zM275 488h1v1h-1zM275 488h1v1h-1zM276 487h1v1h-1zM277 485h1v2h-1zM278 484h1v1h-1zM279 483h1v1h-1zM280 482h1v1h-1zM281 480h1v2h-1zM282 479h1v1h-1zM283 478h1v1h-1zM283 478h1v1h-1zM284 477h1v1h-1zM285 476h1v1h-1zM286 475h1v1h-1zM287 473h1v2h-1zM288 472h1v1h-1zM289 471h1v1h-1zM290 470h1v1h-1zM291 469h1v1h-1zM291 469h1v1h-1zM292 468h1v1h-1zM293 467h1v1h-1zM294 466h1v1h-1zM295 465h1v1h-1zM296 464h1v1h-1zM297 463h1v1h-1zM298 462h1v1h-1zM299 461h1v1h-1zM299 460h1v2h-1zM300 456h1v4h-1zM301 452h1v4h-1zM302 449h1v3h-1zM303 445h1v4h-1zM304 442h1v3h-1zM305 438h1v4h-1zM306 434h1v4h-1zM307 432h1v2h-1zM307 431h1v2h-1zM308 428h1v3h-1zM309 425h1v3h-1zM310 422h1v3h-1zM311 420h1v2h-1zM312 417h1v3h-1zM313 414h1v3h-1zM314 411h1v3h-1zM315 409h1v2h-1zM315 409h1v1h-1zM316 408h2v1h-2zM318 407h1v1h-1zM319 406h2v1h-2zM321 405h2v1h-2zM323 404h1v1h-1zM323 404h4v1h-4zM327 405h5v1h-5zM331 405h1v1h-1zM332 406h1v1h-1zM333 407h1v1h-1zM334 408h1v1h-1zM335 409h1v1h-1zM336 410h1v1h-1zM337 411h1v1h-1zM338 412h1v1h-1zM339 413h1v1h-1zM339 413h4v1h-4zM343 414h5v1h-5zM347 414h2v1h-2zM349 415h2v1h-2zM351 416h3v1h-3zM354 417h2v1h-2zM355 417h4v1h-4zM359 418h5v1h-5zM363 418h9v1h-9zM371 418h4v1h-4zM375 417h5v1h-5zM379 417h1v1h-1zM380 416h2v1h-2zM382 415h2v1h-2zM384 414h2v1h-2zM386 413h2v1h-2zM387 413h1v1h-1zM388 412h2v1h-2zM390 411h2v1h-2zM392 410h2v1h-2zM394 409h2v1h-2zM395 409h1v1h-1zM396 408h2v1h-2zM398 407h2v1h-2zM400 406h2v1h-2zM402 405h2v1h-2zM403 405h1v1h-1zM404 404h2v1h-2zM406 403h1v1h-1zM407 402h2v1h-2zM409 401h2v1h-2zM411 400h1v1h-1zM411 400h1v1h-1zM412 399h1v1h-1zM413 398h1v1h-1zM414 397h1v1h-1zM415 395h1v2h-1zM416 394h1v1h-1zM417 393h1v1h-1zM418 392h1v1h-1zM419 391h1v1h-1zM419 391h1v1h-1zM420 389h1v2h-1zM421 388h1v1h-1zM422 387h1v1h-1zM423 385h1v2h-1zM424 384h1v1h-1zM425 383h1v1h-1zM426 381h1v2h-1zM427 380h1v1h-1zM427 380h1v1h-1zM428 378h1v2h-1zM429 376h1v2h-1zM430 374h1v2h-1zM431 373h1v1h-1zM432 371h1v2h-1zM433 369h1v2h-1zM434 367h1v2h-1zM435 366h1v1h-1zM435 365h1v2h-1zM436 363h1v2h-1zM437 361h1v2h-1zM438 359h1v2h-1zM439 357h1v2h-1zM440 355h1v2h-1zM441 353h1v2h-1zM442 351h1v2h-1zM443 349h1v2h-1zM443 348h1v2h-1zM444 346h1v2h-1zM445 344h1v2h-1zM446 342h1v2h-1zM447 339h1v3h-1zM448 337h1v2h-1zM449 335h1v2h-1zM450 333h1v2h-1zM451 331h1v2h-1zM451 330h1v2h-1zM452 328h1v2h-1zM453 326h1v2h-1zM454 323h1v3h-1zM455 321h1v2h-1zM456 318h1v3h-1zM457 316h1v2h-1zM458 314h1v2h-1zM459 312h1v2h-1zM459 312h1v1h-1zM460 310h1v2h-1zM461 308h1v2h-1zM462 306h1v2h-1zM463 304h1v2h-1zM464 302h1v2h-1zM465 300h1v2h-1zM466 298h1v2h-1zM467 297h1v1h-1zM467 297h1v1h-1zM468 295h1v2h-1zM469 293h1v2h-1zM470 291h1v2h-1zM471 289h1v2h-1zM472 287h1v2h-1zM473 285h1v2h-1zM474 283h1v2h-1zM475 282h1v1h-1zM475 282h4v1h-4zM479 281h5v1h-5zM483 281h4v1h-4zM487 280h5v1h-5zM491 280h9v1h-9zM499 280h4v1h-4zM503 281h5v1h-5zM507 281h2v1h-2zM509 282h4v1h-4zM513 283h3v1h-3zM515 283h1v1h-1zM516 282h1v1h-1zM517 281h2v1h-2zM519 280h1v1h-1zM520 279h1v1h-1zM521 278h2v1h-2zM523 277h1v1h-1zM523 277h2v1h-2zM525 276h4v1h-4zM529 275h3v1h-3zM531 275h9v1h-9zM539 275h1v1h-1zM540 276h2v1h-2zM542 277h2v1h-2zM544 278h2v1h-2zM546 279h2v1h-2zM547 279h2v1h-2zM549 280h2v1h-2zM551 281h3v1h-3zM554 282h2v1h-2zM555 282h2v1h-2zM557 283h2v1h-2zM559 284h3v1h-3zM562 285h2v1h-2zM563 285h2v1h-2zM565 286h2v1h-2zM567 287h3v1h-3zM570 288h2v1h-2zM571 288h1v1h-1zM572 289h2v1h-2zM574 290h1v1h-1zM575 291h2v1h-2zM577 292h2v1h-2zM579 293h1v1h-1zM579 293h1v1h-1zM580 294h2v1h-2zM582 295h2v1h-2zM584 296h2v1h-2zM586 297h2v1h-2zM587 297h2v1h-2zM589 298h2v1h-2zM591 299h3v1h-3zM594 300h2v1h-2zM595 300h2v1h-2zM597 301h2v1h-2zM599 302h3v1h-3zM602 303h2v1h-2zM603 303h2v1h-2zM605 304h2v1h-2zM607 305h3v1h-3zM610 306h2v1h-2zM611 306h1v1h-1zM612 307h2v1h-2zM614 308h2v1h-2zM616 309h2v1h-2zM618 310h2v1h-2zM619 310h2v1h-2zM621 311h2v1h-2zM623 312h3v1h-3zM626 313h2v1h-2zM627 313h9v1h-9zM635 313h9v1h-9zM643 313h9v1h-9zM651 313h9v1h-9zM659 313h4v1h-4zM663 312h5v1h-5zM667 312h2v1h-2zM669 311h2v1h-2zM671 310h3v1h-3zM674 309h2v1h-2zM675 309h2v1h-2zM677 310h2v1h-2zM679 311h3v1h-3zM682 312h2v1h-2zM683 312h1v1h-1zM684 313h2v1h-2zM686 314h2v1h-2zM688 315h2v1h-2zM690 316h2v1h-2zM691 316h1v1h-1zM692 317h1v1h-1zM693 318h1v1h-1zM694 319h1v1h-1zM695 320h1v1h-1zM696 321h1v1h-1zM697 322h1v1h-1zM698 323h1v1h-1zM699 324h1v1h-1zM699 324h2v1h-2zM701 325h4v1h-4zM705 326h3v1h-3zM707 326h1v1h-1zM708 327h2v1h-2zM710 328h2v1h-2zM712 329h2v1h-2zM714 330h2v1h-2zM715 330h2v1h-2zM717 331h2v1h-2zM719 332h3v1h-3zM722 333h2v1h-2zM723 333h4v1h-4zM727 332h5v1h-5zM731 332h2v1h-2zM733 331h4v1h-4zM737 330h3v1h-3zM739 330h1v1h-1zM740 329h2v1h-2zM742 328h2v1h-2zM744 327h2v1h-2zM746 326h2v1h-2zM747 326h1v1h-1zM748 325h1v1h-1zM749 324h2v1h-2zM751 323h1v1h-1zM752 322h1v1h-1zM753 321h2v1h-2zM755 320h1v1h-1zM755 320h1v1h-1zM756 319h2v1h-2zM758 318h2v1h-2zM760 317h2v1h-2zM762 316h2v1h-2zM763 316h1v1h-1zM764 314h1v2h-1zM765 313h1v1h-1zM766 312h1v1h-1zM767 310h1v2h-1zM768 309h1v1h-1zM769 308h1v1h-1zM770 306h1v2h-1zM771 305h1v1h-1zM771 305h1v1h-1zM772 303h1v2h-1zM773 302h1v1h-1zM774 301h1v1h-1zM775 299h1v2h-1zM776 298h1v1h-1zM777 297h1v1h-1zM778 295h1v2h-1zM779 294h1v1h-1zM779 294h1v1h-1zM780 293h1v1h-1zM781 291h1v2h-1zM782 290h1v1h-1zM783 289h1v1h-1zM784 288h1v1h-1zM785 286h1v2h-1zM786 285h1v1h-1zM787 284h1v1h-1zM787 284h1v1h-1zM788 283h1v1h-1zM789 282h1v1h-1zM790 281h1v1h-1zM791 280h1v1h-1zM792 279h1v1h-1zM793 278h1v1h-1zM794 277h1v1h-1zM795 276h1v1h-1zM795 276h1v1h-1zM796 275h1v1h-1zM797 274h1v1h-1zM798 273h1v1h-1zM799 272h1v1h-1zM800 271h1v1h-1zM801 270h1v1h-1zM802 269h1v1h-1zM803 268h1v1h-1zM803 268h1v1h-1zM804 266h1v2h-1zM805 265h1v1h-1zM806 263h1v2h-1zM807 262h1v1h-1zM808 260h1v2h-1zM809 259h1v1h-1zM810 257h1v2h-1zM811 256h1v1h-1zM811 256h1v1h-1zM812 254h1v2h-1zM813 252h1v2h-1zM814 250h1v2h-1zM815 248h1v2h-1zM816 246h1v2h-1zM817 244h1v2h-1zM818 242h1v2h-1zM819 241h1v1h-1zM819 240h1v2h-1zM820 238h1v2h-1zM821 236h1v2h-1zM822 234h1v2h-1zM823 232h1v2h-1zM824 230h1v2h-1zM825 228h1v2h-1zM826 226h1v2h-1zM827 224h1v2h-1zM827 223h1v2h-1zM828 221h1v2h-1zM829 219h1v2h-1zM830 217h1v2h-1zM831 215h1v2h-1zM832 213h1v2h-1zM833 211h1v2h-1zM834 209h1v2h-1zM835 207h1v2h-1zM835 207h1v1h-1zM836 206h1v1h-1zM837 205h1v1h-1zM838 204h1v1h-1zM839 203h1v1h-1zM840 202h1v1h-1zM841 201h1v1h-1zM842 200h1v1h-1zM843 199h1v1h-1zM843 199h1v1h-1zM844 198h1v1h-1zM845 197h1v1h-1zM846 196h1v1h-1zM847 195h2v1h-2zM849 194h1v1h-1zM850 193h1v1h-1zM851 192h1v1h-1zM851 192h1v1h-1zM852 191h1v1h-1zM853 190h2v1h-2zM855 189h1v1h-1zM856 188h1v1h-1zM857 187h2v1h-2zM859 186h1v1h-1zM859 186h2v1h-2zM861 185h4v1h-4zM865 184h3v1h-3zM867 184h2v1h-2zM869 185h4v1h-4zM873 186h3v1h-3zM875 186h2v1h-2zM877 187h2v1h-2zM879 188h3v1h-3zM882 189h2v1h-2zM883 189h9v1h-9zM891 189h4v1h-4zM895 188h5v1h-5zM899 188h1v1h-1zM900 187h2v1h-2zM902 186h2v1h-2zM904 185h2v1h-2zM906 184h2v1h-2zM907 184h1v1h-1zM908 183h2v1h-2zM910 182h1v1h-1zM911 181h2v1h-2zM913 180h2v1h-2zM915 179h1v1h-1zM915 179h2v1h-2zM917 178h2v1h-2zM919 177h3v1h-3zM922 176h2v1h-2zM923 176h4v1h-4zM927 175h5v1h-5zM931 175h2v1h-2zM933 174h4v1h-4zM937 173h3v1h-3zM939 173h4v1h-4zM943 172h5v1h-5zM947 172h4v1h-4zM951 171h5v1h-5zM955 171h4v1h-4zM959 170h5v1h-5zM963 170h2v1h-2zM965 169h4v1h-4zM969 168h3v1h-3zM971 168h2v1h-2zM973 167h4v1h-4zM977 166h3v1h-3zM979 166h1v1h-1zM980 165h2v1h-2zM982 164h2v1h-2zM984 163h2v1h-2zM986 162h2v1h-2zM987 162h1v1h-1zM988 161h2v1h-2zM990 160h2v1h-2zM992 159h2v1h-2zM994 158h2v1h-2zM995 158h2v1h-2zM997 157h2v1h-2zM999 156h3v1h-3zM1002 155h2v1h-2zM1003 155h1v1h-1zM1004 154h2v1h-2zM1006 153h2v1h-2zM1008 152h2v1h-2zM1010 151h2v1h-2zM1011 151h1v1h-1zM1012 150h2v1h-2zM1014 149h2v1h-2zM1016 148h2v1h-2zM1018 147h2v1h-2zM1019 147h9v1h-9zM1027 147h9v1h-9zM1035 147h9v1h-9zM1043 147h4v1h-4zM1047 148h5v1h-5zM1051 148h4v1h-4zM1055 149h5v1h-5zM1059 149h4v1h-4zM1063 150h5v1h-5zM1067 150h9v1h-9zM1075 150h9v1h-9zM1083 150h2v1h-2zM1085 151h4v1h-4zM1089 152h3v1h-3zM1091 152h2v1h-2zM1093 153h2v1h-2zM1095 154h3v1h-3zM1098 155h2v1h-2zM1099 155h1v1h-1zM1100 156h2v1h-2zM1102 157h1v1h-1zM1103 158h2v1h-2zM1105 159h2v1h-2zM1107 160h1v1h-1zM1107 160h1v1h-1zM1108 161h2v1h-2zM1110 162h2v1h-2zM1112 163h2v1h-2zM1114 164h2v1h-2zM1115 164h2v1h-2zM1117 165h4v1h-4zM1121 166h3v1h-3zM1123 166h4v1h-4zM1127 167h5v1h-5zM1131 167h9v1h-9zM1139 167h2v1h-2zM1141 166h4v1h-4zM1145 165h3v1h-3zM1147 165h1v1h-1zM1148 164h2v1h-2zM1150 163h2v1h-2zM1152 162h2v1h-2zM1154 161h2v1h-2zM1155 161h1v1h-1zM1156 160h1v1h-1zM1157 159h1v1h-1zM1158 158h1v1h-1zM1159 157h1v1h-1zM1160 156h1v1h-1zM1161 155h1v1h-1zM1162 154h1v1h-1zM1163 153h1v1h-1zM1163 153h1v1h-1zM1164 152h1v1h-1zM1165 151h1v1h-1zM1166 150h1v1h-1zM1167 149h1v1h-1zM1168 148h1v1h-1zM1169 147h1v1h-1zM1170 146h1v1h-1zM1171 145h1v1h-1zM1171 145h1v1h-1zM1172 144h1v1h-1zM1173 143h1v1h-1zM1174 142h1v1h-1zM1175 141h1v1h-1zM1176 140h1v1h-1zM1177 139h1v1h-1zM1178 138h1v1h-1zM1179 137h1v1h-1zM1179 137h1v1h-1zM1180 136h1v1h-1zM1181 134h1v2h-1zM1182 133h1v1h-1zM1183 132h1v1h-1zM1184 131h1v1h-1zM1185 129h1v2h-1zM1186 128h1v1h-1zM1187 127h1v1h-1zM1187 127h1v1h-1zM1188 126h1v1h-1zM1189 125h1v1h-1zM1190 124h1v1h-1zM1191 123h1v1h-1zM1192 122h1v1h-1zM1193 121h1v1h-1zM1194 120h1v1h-1zM1195 119h1v1h-1zM1195 119h1v1h-1zM1196 118h1v1h-1zM1197 117h1v1h-1zM1198 116h1v1h-1zM1199 115h1v1h-1zM1200 114h1v1h-1zM1201 113h1v1h-1zM1202 112h1v1h-1zM1203 111h1v1h-1zM1203 111h1v1h-1zM1204 110h1v1h-1zM1205 109h2v1h-2zM1207 108h1v1h-1zM1208 107h1v1h-1zM1209 106h2v1h-2zM1211 105h1v1h-1zM1211 105h1v1h-1zM1212 104h1v1h-1zM1213 103h1v1h-1zM1214 102h1v1h-1zM1215 101h2v1h-2zM1217 100h1v1h-1zM1218 99h1v1h-1zM1219 98h1v1h-1zM1219 98h1v1h-1zM1220 97h1v1h-1zM1221 96h1v1h-1zM1222 95h1v1h-1zM1223 94h2v1h-2zM1225 93h1v1h-1zM1226 92h1v1h-1zM1227 91h1v1h-1zM1227 91h1v1h-1zM1228 90h1v1h-1zM1229 89h1v1h-1zM1230 88h1v1h-1zM1231 87h2v1h-2zM1233 86h1v1h-1zM1234 85h1v1h-1zM1235 84h1v1h-1zM1235 84h2v1h-2zM1237 83h4v1h-4zM1241 82h3v1h-3zM1243 82h1v1h-1zM1244 81h2v1h-2zM1246 80h2v1h-2zM1248 79h2v1h-2zM1250 78h2v1h-2zM1251 78h4v1h-4zM1255 77h5v1h-5zM1259 77h9v1h-9zM1267 77h4v1h-4zM1271 78h5v1h-5zM1275 78h9v1h-9zM1283 78h9v1h-9zM1291 78h9v1h-9zM1299 78h9v1h-9zM1307 78h9v1h-9zM1315 78h9v1h-9zM1323 78h2v1h-2zM1325 77h4v1h-4zM1329 76h3v1h-3zM1331 76h9v1h-9zM1339 76h9v1h-9zM1347 76h9v1h-9zM1355 76h9v1h-9zM1363 76h4v1h-4zM1367 75h5v1h-5zM1371 75h4v1h-4zM1375 74h5v1h-5zM1379 74h2v1h-2zM1381 73h4v1h-4zM1385 72h3v1h-3zM1387 72h2v1h-2zM1389 71h4v1h-4zM1393 70h3v1h-3zM1395 70h1v1h-1zM1396 68h1v2h-1zM1397 67h1v1h-1zM1398 66h1v1h-1zM1399 64h1v2h-1zM1400 63h1v1h-1zM1401 62h1v1h-1zM1402 60h1v2h-1zM1403 59h1v1h-1zM1403 59h1v1h-1zM1404 58h2v1h-2zM1406 57h1v1h-1zM1407 56h2v1h-2zM1409 55h2v1h-2zM1411 54h1v1h-1zM1411 54h4v1h-4zM1415 55h5v1h-5zM1419 55h4v1h-4zM1423 56h5v1h-5zM1427 56h4v1h-4zM1431 57h5v1h-5zM1435 57h2v1h-2zM1437 58h2v1h-2zM1439 59h3v1h-3zM1442 60h2v1h-2zM1443 60h2v1h-2zM1445 61h4v1h-4zM1449 62h3v1h-3zM1451 62h2v1h-2zM1453 63h2v1h-2zM1455 64h3v1h-3zM1458 65h2v1h-2zM1459 65h4v1h-4zM1463 66h5v1h-5zM1467 66h9v1h-9zM1475 66h2v1h-2zM1477 67h4v1h-4zM1481 68h3v1h-3zM1483 68h9v1h-9z" fill="#000"/>
</g>
<rect x="3" y="100" width="1506" height="1" fill="#ff0000"/>
<rect x="3" y="219" width="1506" height="1" fill="#ff0000"/>
<g clip-path="url(#cm)">
<rect x="3" y="472" width="1" height="9" fill="#000"/>
<rect x="1" y="476" width="5" height="5" fill="#000"/>
<rect x="11" y="472" width="1" height="12" fill="#000"/>
<rect x="9" y="480" width="5" height="1" fill="#000"/>
<rect x="19" y="474" width="1" height="24" fill="#000"/>
<rect x="17" y="481" width="5" height="16" fill="#000"/>
<rect x="27" y="494" width="1" height="24" fill="#000"/>
<rect x="25" y="494" width="5" height="23" fill="#000"/>
<rect x="35" y="511" width="1" height="28" fill="#000"/>
<rect x="33" y="516" width="5" height="4" fill="#000"/>
<rect x="43" y="501" width="1" height="30" fill="#000"/>
<rect x="41" y="501" width="5" height="18" fill="#000"/>
<rect x="42" y="502" width="3" height="16" fill="#fff"/>
<rect x="51" y="487" width="1" height="21" fill="#000"/>
<rect x="49" y="487" width="5" height="15" fill="#000"/>
<rect x="50" y="488" width="3" height="13" fill="#fff"/>
<rect x="59" y="484" width="1" height="21" fill="#000"/>
<rect x="57" y="487" width="5" height="18" fill="#000"/>
<rect x="67" y="479" width="1" height="31" fill="#000"/>
<rect x="65" y="480" width="5" height="26" fill="#000"/>
<rect x="66" y="481" width="3" height="24" fill="#fff"/>
<rect x="75" y="479" width="1" height="20" fill="#000"/>
<rect x="73" y="480" width="5" height="7" fill="#000"/>
<rect x="83" y="481" width="1" height="28" fill="#000"/>
<rect x="81" y="486" width="5" height="12" fill="#000"/>
<rect x="91" y="496" width="1" height="34" fill="#000"/>
<rect x="89" y="497" width="5" height="11" fill="#000"/>
<rect x="99" y="501" width="1" height="23" fill="#000"/>
<rect x="97" y="504" width="5" height="5" fill="#000"/>
<rect x="98" y="505" width="3" height="3" fill="#fff"/>
<rect x="107" y="488" width="1" height="23" fill="#000"/>
<rect x="105" y="493" width="5" height="12" fill="#000"/>
<rect x="106" y="494" width="3" height="10" fill="#fff"/>
<rect x="115" y="466" width="1" height="30" fill="#000"/>
<rect x="113" y="476" width="5" height="19" fill="#000"/>
<rect x="114" y="477" width="3" height="17" fill="#fff"/>
<rect x="123" y="464" width="1" height="20" fill="#000"/>
<rect x="121" y="467" width="5" height="10" fill="#000"/>
<rect x="122" y="468" width="3" height="8" fill="#fff"/>
<rect x="131" y="426" width="1" height="74" fill="#000"/>
<rect x="129" y="437" width="5" height="31" fill="#000"/>
<rect x="130" y="438" width="3" height="29" fill="#fff"/>
<rect x="139" y="408" width="1" height="72" fill="#000"/>
<rect x="137" y="438" width="5" height="19" fill="#000"/>
<rect x="147" y="420" width="1" height="65" fill="#000"/>
<rect x="145" y="456" width="5" height="23" fill="#000"/>
<rect x="155" y="471" width="1" height="48" fill="#000"/>
<rect x="153" y="473" width="5" height="6" fill="#000"/>
<rect x="154" y="474" width="3" height="4" fill="#fff"/>
<rect x="163" y="425" width="1" height="56" fill="#000"/>
<rect x="161" y="432" width="5" height="43" fill="#000"/>
<rect x="162" y="433" width="3" height="41" fill="#fff"/>
<rect x="171" y="387" width="1" height="61" fill="#000"/>
<rect x="169" y="393" width="5" height="40" fill="#000"/>
<rect x="170" y="394" width="3" height="38" fill="#fff"/>
<rect x="179" y="369" width="1" height="47" fill="#000"/>
<rect x="177" y="372" width="5" height="21" fill="#000"/>
<rect x="178" y="373" width="3" height="19" fill="#fff"/>
<rect x="187" y="340" width="1" height="37" fill="#000"/>
<rect x="185" y="360" width="5" height="13" fill="#000"/>
<rect x="186" y="361" width="3" height="11" fill="#fff"/>
<rect x="195" y="305" width="1" height="22" fill="#000"/>
<rect x="193" y="306" width="5" height="17" fill="#000"/>
<rect x="203" y="322" width="1" height="25" fill="#000"/>
<rect x="201" y="323" width="5" height="5" fill="#000"/>
<rect x="211" y="320" width="1" height="22" fill="#000"/>
<rect x="209" y="327" width="5" height="1" fill="#000"/>
<rect x="219" y="324" width="1" height="36" fill="#000"/>
<rect x="217" y="327" width="5" height="18" fill="#000"/>
<rect x="227" y="343" width="1" height="21" fill="#000"/>
<rect x="225" y="344" width="5" height="11" fill="#000"/>
<rect x="235" y="348" width="1" height="15" fill="#000"/>
<rect x="233" y="354" width="5" height="3" fill="#000"/>
<rect x="243" y="349" width="1" height="13" fill="#000"/>
<rect x="241" y="354" width="5" height="3" fill="#000"/>
<rect x="242" y="355" width="3" height="1" fill="#fff"/>
<rect x="251" y="344" width="1" height="17" fill="#000"/>
<rect x="249" y="353" width="5" height="8" fill="#000"/>
<rect x="259" y="350" width="1" height="26" fill="#000"/>
<rect x="257" y="360" width="5" height="9" fill="#000"/>
<rect x="267" y="363" width="1" height="23" fill="#000"/>
<rect x="265" y="365" width="5" height="4" fill="#000"/>
<rect x="266" y="366" width="3" height="2" fill="#fff"/>
<rect x="275" y="365" width="1" height="32" fill="#000"/>
<rect x="273" y="365" width="5" height="14" fill="#000"/>
<rect x="283" y="363" width="1" height="18" fill="#000"/>
<rect x="281" y="367" width="5" height="12" fill="#000"/>
<rect x="282" y="368" width="3" height="10" fill="#fff"/>
<rect x="291" y="356" width="1" height="16" fill="#000"/>
<rect x="289" y="357" width="5" height="11" fill="#000"/>
<rect x="290" y="358" width="3" height="9" fill="#fff"/>
<rect x="299" y="352" width="1" height="21" fill="#000"/>
<rect x="297" y="357" width="5" height="10" fill="#000"/>
<rect x="307" y="326" width="1" height="45" fill="#000"/>
<rect x="305" y="328" width="5" height="39" fill="#000"/>
<rect x="306" y="329" width="3" height="37" fill="#fff"/>
<rect x="315" y="298" width="1" height="47" fill="#000"/>
<rect x="313" y="328" width="5" height="1" fill="#000"/>
<rect x="323" y="257" width="1" height="76" fill="#000"/>
<rect x="321" y="265" width="5" height="64" fill="#000"/>
<rect x="322" y="266" width="3" height="62" fill="#fff"/>
<rect x="331" y="248" width="1" height="25" fill="#000"/>
<rect x="329" y="265" width="5" height="2" fill="#000"/>
<rect x="339" y="223" width="1" height="45" fill="#000"/>
<rect x="337" y="232" width="5" height="34" fill="#000"/>
<rect x="338" y="233" width="3" height="32" fill="#fff"/>
<rect x="347" y="216" width="1" height="47" fill="#000"/>
<rect x="345" y="232" width="5" height="30" fill="#000"/>
<rect x="355" y="233" width="1" height="34" fill="#000"/>
<rect x="353" y="249" width="5" height="13" fill="#000"/>
<rect x="354" y="250" width="3" height="11" fill="#fff"/>
<rect x="363" y="246" width="1" height="49" fill="#000"/>
<rect x="361" y="249" width="5" height="42" fill="#000"/>
<rect x="371" y="265" width="1" height="27" fill="#000"/>
<rect x="369" y="269" width="5" height="23" fill="#000"/>
<rect x="370" y="270" width="3" height="21" fill="#fff"/>
<rect x="379" y="248" width="1" height="21" fill="#000"/>
<rect x="377" y="256" width="5" height="14" fill="#000"/>
<rect x="378" y="257" width="3" height="12" fill="#fff"/>
<rect x="387" y="251" width="1" height="21" fill="#000"/>
<rect x="385" y="255" width="5" height="8" fill="#000"/>
<rect x="395" y="244" width="1" height="32" fill="#000"/>
<rect x="393" y="262" width="5" height="12" fill="#000"/>
<rect x="403" y="253" width="1" height="20" fill="#000"/>
<rect x="401" y="255" width="5" height="19" fill="#000"/>
<rect x="402" y="256" width="3" height="17" fill="#fff"/>
<rect x="411" y="244" width="1" height="14" fill="#000"/>
<rect x="409" y="245" width="5" height="11" fill="#000"/>
<rect x="410" y="246" width="3" height="9" fill="#fff"/>
<rect x="419" y="241" width="1" height="12" fill="#000"/>
<rect x="417" y="245" width="5" height="1" fill="#000"/>
<rect x="427" y="242" width="1" height="10" fill="#000"/>
<rect x="425" y="245" width="5" height="5" fill="#000"/>
<rect x="435" y="241" width="1" height="23" fill="#000"/>
<rect x="433" y="249" width="5" height="12" fill="#000"/>
<rect x="443" y="252" width="1" height="19" fill="#000"/>
<rect x="441" y="255" width="5" height="6" fill="#000"/>
<rect x="442" y="256" width="3" height="4" fill="#fff"/>
<rect x="451" y="242" width="1" height="29" fill="#000"/>
<rect x="449" y="249" width="5" height="7" fill="#000"/>
<rect x="450" y="250" width="3" height="5" fill="#fff"/>
<rect x="459" y="242" width="1" height="11" fill="#000"/>
<rect x="457" y="248" width="5" height="2" fill="#000"/>
<rect x="467" y="242" width="1" height="18" fill="#000"/>
<rect x="465" y="248" width="5" height="9" fill="#000"/>
<rect x="475" y="244" width="1" height="14" fill="#000"/>
<rect x="473" y="251" width="5" height="6" fill="#000"/>
<rect x="474" y="252" width="3" height="4" fill="#fff"/>
<rect x="483" y="250" width="1" height="21" fill="#000"/>
<rect x="481" y="250" width="5" height="15" fill="#000"/>
<rect x="491" y="262" width="1" height="12" fill="#000"/>
<rect x="489" y="264" width="5" height="6" fill="#000"/>
<rect x="499" y="244" width="1" height="31" fill="#000"/>
<rect x="497" y="257" width="5" height="12" fill="#000"/>
<rect x="498" y="258" width="3" height="10" fill="#fff"/>
<rect x="507" y="231" width="1" height="31" fill="#000"/>
<rect x="505" y="232" width="5" height="25" fill="#000"/>
<rect x="506" y="233" width="3" height="23" fill="#fff"/>
<rect x="515" y="222" width="1" height="18" fill="#000"/>
<rect x="513" y="225" width="5" height="8" fill="#000"/>
<rect x="514" y="226" width="3" height="6" fill="#fff"/>
<rect x="523" y="215" width="1" height="19" fill="#000"/>
<rect x="521" y="225" width="5" height="6" fill="#000"/>
<rect x="531" y="221" width="1" height="16" fill="#000"/>
<rect x="529" y="229" width="5" height="4" fill="#000"/>
<rect x="539" y="229" width="1" height="19" fill="#000"/>
<rect x="537" y="231" width="5" height="17" fill="#000"/>
<rect x="547" y="240" width="1" height="47" fill="#000"/>
<rect x="545" y="247" width="5" height="38" fill="#000"/>
<rect x="555" y="273" width="1" height="14" fill="#000"/>
<rect x="553" y="277" width="5" height="7" fill="#000"/>
<rect x="554" y="278" width="3" height="5" fill="#fff"/>
<rect x="563" y="270" width="1" height="9" fill="#000"/>
<rect x="561" y="274" width="5" height="3" fill="#000"/>
<rect x="571" y="275" width="1" height="13" fill="#000"/>
<rect x="569" y="278" width="5" height="5" fill="#000"/>
<rect x="579" y="273" width="1" height="20" fill="#000"/>
<rect x="577" y="282" width="5" height="11" fill="#000"/>
<rect x="587" y="283" width="1" height="11" fill="#000"/>
<rect x="585" y="284" width="5" height="9" fill="#000"/>
<rect x="586" y="285" width="3" height="7" fill="#fff"/>
<rect x="595" y="282" width="1" height="7" fill="#000"/>
<rect x="593" y="284" width="5" height="4" fill="#000"/>
<rect x="603" y="280" width="1" height="14" fill="#000"/>
<rect x="601" y="284" width="5" height="4" fill="#000"/>
<rect x="602" y="285" width="3" height="2" fill="#fff"/>
<rect x="611" y="284" width="1" height="14" fill="#000"/>
<rect x="609" y="284" width="5" height="8" fill="#000"/>
<rect x="619" y="286" width="1" height="15" fill="#000"/>
<rect x="617" y="291" width="5" height="5" fill="#000"/>
<rect x="627" y="283" width="1" height="16" fill="#000"/>
<rect x="625" y="286" width="5" height="11" fill="#000"/>
<rect x="626" y="287" width="3" height="9" fill="#fff"/>
<rect x="635" y="265" width="1" height="30" fill="#000"/>
<rect x="633" y="267" width="5" height="20" fill="#000"/>
<rect x="634" y="268" width="3" height="18" fill="#fff"/>
<rect x="643" y="254" width="1" height="16" fill="#000"/>
<rect x="641" y="257" width="5" height="10" fill="#000"/>
<rect x="642" y="258" width="3" height="8" fill="#fff"/>
<rect x="651" y="255" width="1" height="15" fill="#000"/>
<rect x="649" y="257" width="5" height="9" fill="#000"/>
<rect x="659" y="259" width="1" height="16" fill="#000"/>
<rect x="657" y="265" width="5" height="2" fill="#000"/>
<rect x="667" y="255" width="1" height="15" fill="#000"/>
<rect x="665" y="261" width="5" height="5" fill="#000"/>
<rect x="666" y="262" width="3" height="3" fill="#fff"/>
<rect x="675" y="239" width="1" height="25" fill="#000"/>
<rect x="673" y="242" width="5" height="20" fill="#000"/>
<rect x="674" y="243" width="3" height="18" fill="#fff"/>
<rect x="683" y="207" width="1" height="44" fill="#000"/>
<rect x="681" y="210" width="5" height="33" fill="#000"/>
<rect x="682" y="211" width="3" height="31" fill="#fff"/>
<rect x="691" y="201" width="1" height="30" fill="#000"/>
<rect x="689" y="206" width="5" height="6" fill="#000"/>
<rect x="690" y="207" width="3" height="4" fill="#fff"/>
<rect x="699" y="189" width="1" height="18" fill="#000"/>
<rect x="697" y="194" width="5" height="13" fill="#000"/>
<rect x="698" y="195" width="3" height="11" fill="#fff"/>
<rect x="707" y="185" width="1" height="18" fill="#000"/>
<rect x="705" y="187" width="5" height="9" fill="#000"/>
<rect x="706" y="188" width="3" height="7" fill="#fff"/>
<rect x="715" y="176" width="1" height="27" fill="#000"/>
<rect x="713" y="181" width="5" height="7" fill="#000"/>
<rect x="714" y="182" width="3" height="5" fill="#fff"/>
<rect x="723" y="159" width="1" height="28" fill="#000"/>
<rect x="721" y="168" width="5" height="14" fill="#000"/>
<rect x="722" y="169" width="3" height="12" fill="#fff"/>
<rect x="731" y="164" width="1" height="19" fill="#000"/>
<rect x="729" y="167" width="5" height="16" fill="#000"/>
<rect x="739" y="162" width="1" height="21" fill="#000"/>
<rect x="737" y="163" width="5" height="20" fill="#000"/>
<rect x="738" y="164" width="3" height="18" fill="#fff"/>
<rect x="747" y="161" width="1" height="17" fill="#000"/>
<rect x="745" y="163" width="5" height="15" fill="#000"/>
<rect x="755" y="172" width="1" height="14" fill="#000"/>
<rect x="753" y="176" width="5" height="5" fill="#000"/>
<rect x="763" y="157" width="1" height="25" fill="#000"/>
<rect x="761" y="158" width="5" height="23" fill="#000"/>
<rect x="762" y="159" width="3" height="21" fill="#fff"/>
<rect x="771" y="155" width="1" height="6" fill="#000"/>
<rect x="769" y="157" width="5" height="2" fill="#000"/>
<rect x="779" y="149" width="1" height="10" fill="#000"/>
<rect x="777" y="156" width="5" height="2" fill="#000"/>
<rect x="787" y="150" width="1" height="9" fill="#000"/>
<rect x="785" y="151" width="5" height="6" fill="#000"/>
<rect x="786" y="152" width="3" height="4" fill="#fff"/>
<rect x="795" y="147" width="1" height="7" fill="#000"/>
<rect x="793" y="151" width="5" height="2" fill="#000"/>
<rect x="803" y="146" width="1" height="11" fill="#000"/>
<rect x="801" y="147" width="5" height="6" fill="#000"/>
<rect x="802" y="148" width="3" height="4" fill="#fff"/>
<rect x="811" y="147" width="1" height="8" fill="#000"/>
<rect x="809" y="147" width="5" height="6" fill="#000"/>
<rect x="819" y="149" width="1" height="15" fill="#000"/>
<rect x="817" y="152" width="5" height="5" fill="#000"/>
<rect x="827" y="149" width="1" height="11" fill="#000"/>
<rect x="825" y="156" width="5" height="2" fill="#000"/>
<rect x="835" y="155" width="1" height="6" fill="#000"/>
<rect x="833" y="157" width="5" height="2" fill="#000"/>
<rect x="843" y="157" width="1" height="11" fill="#000"/>
<rect x="841" y="158" width="5" height="6" fill="#000"/>
<rect x="851" y="151" width="1" height="15" fill="#000"/>
<rect x="849" y="156" width="5" height="7" fill="#000"/>
<rect x="850" y="157" width="3" height="5" fill="#fff"/>
<rect x="859" y="154" width="1" height="11" fill="#000"/>
<rect x="857" y="156" width="5" height="5" fill="#000"/>
<rect x="867" y="130" width="1" height="40" fill="#000"/>
<rect x="865" y="132" width="5" height="29" fill="#000"/>
<rect x="866" y="133" width="3" height="27" fill="#fff"/>
<rect x="875" y="112" width="1" height="35" fill="#000"/>
<rect x="873" y="117" width="5" height="16" fill="#000"/>
<rect x="874" y="118" width="3" height="14" fill="#fff"/>
<rect x="883" y="102" width="1" height="18" fill="#000"/>
<rect x="881" y="111" width="5" height="7" fill="#000"/>
<rect x="882" y="112" width="3" height="5" fill="#fff"/>
<rect x="891" y="101" width="1" height="18" fill="#000"/>
<rect x="889" y="111" width="5" height="1" fill="#000"/>
<rect x="899" y="104" width="1" height="17" fill="#000"/>
<rect x="897" y="110" width="5" height="10" fill="#000"/>
<rect x="907" y="109" width="1" height="20" fill="#000"/>
<rect x="905" y="118" width="5" height="10" fill="#000"/>
<rect x="915" y="125" width="1" height="17" fill="#000"/>
<rect x="913" y="127" width="5" height="9" fill="#000"/>
<rect x="923" y="131" width="1" height="8" fill="#000"/>
<rect x="921" y="135" width="5" height="2" fill="#000"/>
<rect x="931" y="118" width="1" height="16" fill="#000"/>
<rect x="929" y="126" width="5" height="8" fill="#000"/>
<rect x="930" y="127" width="3" height="6" fill="#fff"/>
<rect x="939" y="119" width="1" height="11" fill="#000"/>
<rect x="937" y="126" width="5" height="2" fill="#000"/>
<rect x="947" y="120" width="1" height="8" fill="#000"/>
<rect x="945" y="123" width="5" height="4" fill="#000"/>
<rect x="946" y="124" width="3" height="2" fill="#fff"/>
<rect x="955" y="117" width="1" height="14" fill="#000"/>
<rect x="953" y="123" width="5" height="2" fill="#000"/>
<rect x="963" y="115" width="1" height="11" fill="#000"/>
<rect x="961" y="116" width="5" height="9" fill="#000"/>
<rect x="962" y="117" width="3" height="7" fill="#fff"/>
<rect x="971" y="112" width="1" height="7" fill="#000"/>
<rect x="969" y="113" width="5" height="3" fill="#000"/>
<rect x="970" y="114" width="3" height="1" fill="#fff"/>
<rect x="979" y="112" width="1" height="11" fill="#000"/>
<rect x="977" y="112" width="5" height="10" fill="#000"/>
<rect x="987" y="117" width="1" height="8" fill="#000"/>
<rect x="985" y="120" width="5" height="2" fill="#000"/>
<rect x="995" y="118" width="1" height="21" fill="#000"/>
<rect x="993" y="121" width="5" height="11" fill="#000"/>
<rect x="1003" y="129" width="1" height="25" fill="#000"/>
<rect x="1001" y="131" width="5" height="20" fill="#000"/>
<rect x="1011" y="139" width="1" height="18" fill="#000"/>
<rect x="1009" y="140" width="5" height="10" fill="#000"/>
<rect x="1010" y="141" width="3" height="8" fill="#fff"/>
<rect x="1019" y="134" width="1" height="13" fill="#000"/>
<rect x="1017" y="137" width="5" height="3" fill="#000"/>
<rect x="1018" y="138" width="3" height="1" fill="#fff"/>
<rect x="1027" y="137" width="1" height="9" fill="#000"/>
<rect x="1025" y="138" width="5" height="3" fill="#000"/>
<rect x="1035" y="121" width="1" height="22" fill="#000"/>
<rect x="1033" y="121" width="5" height="20" fill="#000"/>
<rect x="1034" y="122" width="3" height="18" fill="#fff"/>
<rect x="1043" y="113" width="1" height="17" fill="#000"/>
<rect x="1041" y="122" width="5" height="7" fill="#000"/>
<rect x="1051" y="104" width="1" height="31" fill="#000"/>
<rect x="1049" y="104" width="5" height="25" fill="#000"/>
<rect x="1050" y="105" width="3" height="23" fill="#fff"/>
<rect x="1059" y="93" width="1" height="25" fill="#000"/>
<rect x="1057" y="102" width="5" height="4" fill="#000"/>
<rect x="1058" y="103" width="3" height="2" fill="#fff"/>
<rect x="1067" y="98" width="1" height="17" fill="#000"/>
<rect x="1065" y="102" width="5" height="1" fill="#000"/>
<rect x="1075" y="94" width="1" height="15" fill="#000"/>
<rect x="1073" y="101" width="5" height="2" fill="#000"/>
<rect x="1083" y="88" width="1" height="18" fill="#000"/>
<rect x="1081" y="92" width="5" height="10" fill="#000"/>
<rect x="1082" y="93" width="3" height="8" fill="#fff"/>
<rect x="1091" y="81" width="1" height="13" fill="#000"/>
<rect x="1089" y="83" width="5" height="10" fill="#000"/>
<rect x="1090" y="84" width="3" height="8" fill="#fff"/>
<rect x="1099" y="68" width="1" height="22" fill="#000"/>
<rect x="1097" y="71" width="5" height="13" fill="#000"/>
<rect x="1098" y="72" width="3" height="11" fill="#fff"/>
<rect x="1107" y="48" width="1" height="16" fill="#000"/>
<rect x="1105" y="49" width="5" height="7" fill="#000"/>
<rect x="1115" y="42" width="1" height="15" fill="#000"/>
<rect x="1113" y="46" width="5" height="10" fill="#000"/>
<rect x="1114" y="47" width="3" height="8" fill="#fff"/>
<rect x="1123" y="45" width="1" height="12" fill="#000"/>
<rect x="1121" y="46" width="5" height="8" fill="#000"/>
<rect x="1131" y="45" width="1" height="10" fill="#000"/>
<rect x="1129" y="47" width="5" height="7" fill="#000"/>
<rect x="1130" y="48" width="3" height="5" fill="#fff"/>
<rect x="1139" y="44" width="1" height="11" fill="#000"/>
<rect x="1137" y="47" width="5" height="7" fill="#000"/>
<rect x="1147" y="51" width="1" height="8" fill="#000"/>
<rect x="1145" y="53" width="5" height="5" fill="#000"/>
<rect x="1155" y="56" width="1" height="9" fill="#000"/>
<rect x="1153" y="57" width="5" height="2" fill="#000"/>
<rect x="1163" y="57" width="1" height="11" fill="#000"/>
<rect x="1161" y="58" width="5" height="7" fill="#000"/>
<rect x="1171" y="60" width="1" height="10" fill="#000"/>
<rect x="1169" y="63" width="5" height="2" fill="#000"/>
<rect x="1179" y="59" width="1" height="18" fill="#000"/>
<rect x="1177" y="59" width="5" height="5" fill="#000"/>
<rect x="1178" y="60" width="3" height="3" fill="#fff"/>
<rect x="1187" y="44" width="1" height="19" fill="#000"/>
<rect x="1185" y="48" width="5" height="12" fill="#000"/>
<rect x="1186" y="49" width="3" height="10" fill="#fff"/>
<rect x="1195" y="38" width="1" height="12" fill="#000"/>
<rect x="1193" y="42" width="5" height="7" fill="#000"/>
<rect x="1194" y="43" width="3" height="5" fill="#fff"/>
<rect x="1203" y="41" width="1" height="10" fill="#000"/>
<rect x="1201" y="42" width="5" height="5" fill="#000"/>
<rect x="1211" y="45" width="1" height="11" fill="#000"/>
<rect x="1209" y="46" width="5" height="5" fill="#000"/>
<rect x="1219" y="50" width="1" height="15" fill="#000"/>
<rect x="1217" y="50" width="5" height="10" fill="#000"/>
<rect x="1227" y="38" width="1" height="29" fill="#000"/>
<rect x="1225" y="60" width="5" height="1" fill="#000"/>
<rect x="1235" y="60" width="1" height="22" fill="#000"/>
<rect x="1233" y="61" width="5" height="9" fill="#000"/>
<rect x="1243" y="67" width="1" height="38" fill="#000"/>
<rect x="1241" y="70" width="5" height="19" fill="#000"/>
<rect x="1251" y="62" width="1" height="28" fill="#000"/>
<rect x="1249" y="63" width="5" height="26" fill="#000"/>
<rect x="1250" y="64" width="3" height="24" fill="#fff"/>
<rect x="1259" y="55" width="1" height="15" fill="#000"/>
<rect x="1257" y="55" width="5" height="8" fill="#000"/>
<rect x="1258" y="56" width="3" height="6" fill="#fff"/>
<rect x="1267" y="50" width="1" height="13" fill="#000"/>
<rect x="1265" y="55" width="5" height="4" fill="#000"/>
<rect x="1275" y="30" width="1" height="39" fill="#000"/>
<rect x="1273" y="35" width="5" height="23" fill="#000"/>
<rect x="1274" y="36" width="3" height="21" fill="#fff"/>
<rect x="1283" y="30" width="1" height="10" fill="#000"/>
<rect x="1281" y="36" width="5" height="4" fill="#000"/>
<rect x="1291" y="36" width="1" height="12" fill="#000"/>
<rect x="1289" y="36" width="5" height="11" fill="#000"/>
<rect x="1299" y="42" width="1" height="7" fill="#000"/>
<rect x="1297" y="46" width="5" height="2" fill="#000"/>
<rect x="1307" y="39" width="1" height="10" fill="#000"/>
<rect x="1305" y="42" width="5" height="5" fill="#000"/>
<rect x="1306" y="43" width="3" height="3" fill="#fff"/>
<rect x="1315" y="31" width="1" height="12" fill="#000"/>
<rect x="1313" y="36" width="5" height="7" fill="#000"/>
<rect x="1314" y="37" width="3" height="5" fill="#fff"/>
<rect x="1323" y="36" width="1" height="8" fill="#000"/>
<rect x="1321" y="36" width="5" height="1" fill="#000"/>
<rect x="1331" y="35" width="1" height="7" fill="#000"/>
<rect x="1329" y="36" width="5" height="5" fill="#000"/>
<rect x="1339" y="39" width="1" height="6" fill="#000"/>
<rect x="1337" y="40" width="5" height="2" fill="#000"/>
<rect x="1347" y="38" width="1" height="6" fill="#000"/>
<rect x="1345" y="40" width="5" height="1" fill="#000"/>
<rect x="1355" y="38" width="1" height="8" fill="#000"/>
<rect x="1353" y="38" width="5" height="3" fill="#000"/>
<rect x="1354" y="39" width="3" height="1" fill="#fff"/>
<rect x="1363" y="38" width="1" height="7" fill="#000"/>
<rect x="1361" y="38" width="5" height="3" fill="#000"/>
<rect x="1371" y="36" width="1" height="10" fill="#000"/>
<rect x="1369" y="40" width="5" height="3" fill="#000"/>
<rect x="1379" y="39" width="1" height="11" fill="#000"/>
<rect x="1377" y="42" width="5" height="4" fill="#000"/>
<rect x="1387" y="41" width="1" height="7" fill="#000"/>
<rect x="1385" y="40" width="5" height="6" fill="#000"/>
<rect x="1386" y="41" width="3" height="4" fill="#fff"/>
<rect x="1395" y="32" width="1" height="10" fill="#000"/>
<rect x="1393" y="33" width="5" height="8" fill="#000"/>
<rect x="1394" y="34" width="3" height="6" fill="#fff"/>
<rect x="1403" y="28" width="1" height="12" fill="#000"/>
<rect x="1401" y="33" width="5" height="5" fill="#000"/>
<rect x="1411" y="35" width="1" height="14" fill="#000"/>
<rect x="1409" y="37" width="5" height="8" fill="#000"/>
<rect x="1419" y="44" width="1" height="20" fill="#000"/>
<rect x="1417" y="44" width="5" height="19" fill="#000"/>
<rect x="1427" y="53" width="1" height="15" fill="#000"/>
<rect x="1425" y="57" width="5" height="6" fill="#000"/>
<rect x="1426" y="58" width="3" height="4" fill="#fff"/>
<rect x="1435" y="56" width="1" height="16" fill="#000"/>
<rect x="1433" y="57" width="5" height="2" fill="#000"/>
<rect x="1443" y="51" width="1" height="19" fill="#000"/>
<rect x="1441" y="58" width="5" height="7" fill="#000"/>
<rect x="1451" y="56" width="1" height="17" fill="#000"/>
<rect x="1449" y="59" width="5" height="6" fill="#000"/>
<rect x="1450" y="60" width="3" height="4" fill="#fff"/>
<rect x="1459" y="46" width="1" height="21" fill="#000"/>
<rect x="1457" y="59" width="5" height="2" fill="#000"/>
<rect x="1467" y="50" width="1" height="14" fill="#000"/>
<rect x="1465" y="52" width="5" height="10" fill="#000"/>
<rect x="1466" y="53" width="3" height="8" fill="#fff"/>
<rect x="1475" y="47" width="1" height="9" fill="#000"/>
<rect x="1473" y="52" width="5" height="2" fill="#000"/>
<rect x="1483" y="52" width="1" height="8" fill="#000"/>
<rect x="1481" y="53" width="5" height="8" fill="#000"/>
<rect x="1491" y="56" width="1" height="6" fill="#000"/>
<rect x="1489" y="57" width="5" height="3" fill="#000"/>
<rect x="1490" y="58" width="3" height="1" fill="#fff"/>
</g>
<g clip-path="url(#ci)">
<rect x="3" y="710" width="1" height="81" fill="#00008b"/>
<rect x="11" y="710" width="1" height="83" fill="#00008b"/>
<rect x="19" y="710" width="1" height="88" fill="#00008b"/>
<rect x="27" y="710" width="1" height="97" fill="#00008b"/>
<rect x="35" y="710" width="1" height="104" fill="#00008b"/>
<rect x="43" y="710" width="1" height="102" fill="#00008b"/>
<rect x="51" y="710" width="1" height="97" fill="#00008b"/>
<rect x="59" y="710" width="1" height="95" fill="#00008b"/>
<rect x="67" y="710" width="1" height="87" fill="#00008b"/>
<rect x="75" y="710" width="1" height="81" fill="#00008b"/>
<rect x="83" y="710" width="1" height="79" fill="#00008b"/>
<rect x="91" y="710" width="1" height="79" fill="#00008b"/>
<rect x="99" y="710" width="1" height="77" fill="#00008b"/>
<rect x="107" y="710" width="1" height="72" fill="#00008b"/>
<rect x="115" y="710" width="1" height="62" fill="#00008b"/>
<rect x="123" y="710" width="1" height="51" fill="#00008b"/>
<rect x="131" y="710" width="1" height="33" fill="#00008b"/>
<rect x="139" y="710" width="1" height="26" fill="#00008b"/>
<rect x="147" y="710" width="1" height="24" fill="#00008b"/>
<rect x="155" y="710" width="1" height="21" fill="#00008b"/>
<rect x="163" y="710" width="1" height="8" fill="#00008b"/>
<rect x="171" y="697" width="1" height="14" fill="#00008b"/>
<rect x="179" y="676" width="1" height="35" fill="#00008b"/>
<rect x="187" y="655" width="1" height="56" fill="#00008b"/>
<rect x="195" y="630" width="1" height="81" fill="#00008b"/>
<rect x="203" y="612" width="1" height="99" fill="#00008b"/>
<rect x="211" y="597" width="1" height="114" fill="#00008b"/>
<rect x="219" y="593" width="1" height="118" fill="#00008b"/>
<rect x="227" y="593" width="1" height="118" fill="#00008b"/>
<rect x="235" y="596" width="1" height="115" fill="#00008b"/>
<rect x="243" y="599" width="1" height="112" fill="#00008b"/>
<rect x="251" y="604" width="1" height="107" fill="#00008b"/>
<rect x="259" y="612" width="1" height="99" fill="#00008b"/>
<rect x="267" y="618" width="1" height="93" fill="#00008b"/>
<rect x="275" y="627" width="1" height="84" fill="#00008b"/>
<rect x="283" y="632" width="1" height="79" fill="#00008b"/>
<rect x="291" y="635" width="1" height="76" fill="#00008b"/>
<rect x="299" y="639" width="1" height="72" fill="#00008b"/>
<rect x="307" y="634" width="1" height="77" fill="#00008b"/>
<rect x="315" y="630" width="1" height="81" fill="#00008b"/>
<rect x="323" y="613" width="1" height="98" fill="#00008b"/>
<rect x="331" y="598" width="1" height="113" fill="#00008b"/>
<rect x="339" y="579" width="1" height="132" fill="#00008b"/>
<rect x="347" y="574" width="1" height="137" fill="#00008b"/>
<rect x="355" y="568" width="1" height="143" fill="#00008b"/>
<rect x="363" y="575" width="1" height="136" fill="#00008b"/>
<rect x="371" y="578" width="1" height="133" fill="#00008b"/>
<rect x="379" y="577" width="1" height="134" fill="#00008b"/>
<rect x="387" y="581" width="1" height="130" fill="#00008b"/>
<rect x="395" y="587" width="1" height="124" fill="#00008b"/>
<rect x="403" y="589" width="1" height="122" fill="#00008b"/>
<rect x="411" y="589" width="1" height="122" fill="#00008b"/>
<rect x="419" y="591" width="1" height="120" fill="#00008b"/>
<rect x="427" y="595" width="1" height="116" fill="#00008b"/>
<rect x="435" y="602" width="1" height="109" fill="#00008b"/>
<rect x="443" y="607" width="1" height="104" fill="#00008b"/>
<rect x="451" y="611" width="1" height="100" fill="#00008b"/>
<rect x="459" y="615" width="1" height="96" fill="#00008b"/>
<rect x="467" y="621" width="1" height="90" fill="#00008b"/>
<rect x="475" y="626" width="1" height="85" fill="#00008b"/>
<rect x="483" y="634" width="1" height="77" fill="#00008b"/>
<rect x="491" y="643" width="1" height="68" fill="#00008b"/>
<rect x="499" y="647" width="1" height="64" fill="#00008b"/>
<rect x="507" y="644" width="1" height="67" fill="#00008b"/>
<rect x="515" y="641" width="1" height="70" fill="#00008b"/>
<rect x="523" y="639" width="1" height="72" fill="#00008b"/>
<rect x="531" y="641" width="1" height="70" fill="#00008b"/>
<rect x="539" y="647" width="1" height="64" fill="#00008b"/>
<rect x="547" y="662" width="1" height="49" fill="#00008b"/>
<rect x="555" y="673" width="1" height="38" fill="#00008b"/>
<rect x="563" y="681" width="1" height="30" fill="#00008b"/>
<rect x="571" y="690" width="1" height="21" fill="#00008b"/>
<rect x="579" y="700" width="1" height="11" fill="#00008b"/>
<rect x="587" y="706" width="1" height="5" fill="#00008b"/>
<rect x="603" y="710" width="1" height="4" fill="#00008b"/>
<rect x="611" y="710" width="1" height="9" fill="#00008b"/>
<rect x="619" y="710" width="1" height="13" fill="#00008b"/>
<rect x="627" y="710" width="1" height="14" fill="#00008b"/>
<rect x="635" y="710" width="1" height="10" fill="#00008b"/>
<rect x="643" y="710" width="1" height="3" fill="#00008b"/>
<rect x="651" y="709" width="1" height="2" fill="#00008b"/>
<rect x="659" y="707" width="1" height="4" fill="#00008b"/>
<rect x="667" y="704" width="1" height="7" fill="#00008b"/>
<rect x="675" y="697" width="1" height="14" fill="#00008b"/>
<rect x="683" y="683" width="1" height="28" fill="#00008b"/>
<rect x="691" y="671" width="1" height="40" fill="#00008b"/>
<rect x="699" y="659" width="1" height="52" fill="#00008b"/>
<rect x="707" y="647" width="1" height="64" fill="#00008b"/>
<rect x="715" y="638" width="1" height="73" fill="#00008b"/>
<rect x="723" y="628" width="1" height="83" fill="#00008b"/>
<rect x="731" y="624" width="1" height="87" fill="#00008b"/>
<rect x="739" y="618" width="1" height="93" fill="#00008b"/>
<rect x="747" y="616" width="1" height="95" fill="#00008b"/>
<rect x="755" y="618" width="1" height="93" fill="#00008b"/>
<rect x="763" y="615" width="1" height="96" fill="#00008b"/>
<rect x="771" y="612" width="1" height="99" fill="#00008b"/>
<rect x="779" y="611" width="1" height="100" fill="#00008b"/>
<rect x="787" y="610" width="1" height="101" fill="#00008b"/>
<rect x="795" y="611" width="1" height="100" fill="#00008b"/>
<rect x="803" y="612" width="1" height="99" fill="#00008b"/>
<rect x="811" y="615" width="1" height="96" fill="#00008b"/>
<rect x="819" y="619" width="1" height="92" fill="#00008b"/>
<rect x="827" y="624" width="1" height="87" fill="#00008b"/>
<rect x="835" y="629" width="1" height="82" fill="#00008b"/>
<rect x="843" y="635" width="1" height="76" fill="#00008b"/>
<rect x="851" y="639" width="1" height="72" fill="#00008b"/>
<rect x="859" y="642" width="1" height="69" fill="#00008b"/>
<rect x="867" y="639" width="1" height="72" fill="#00008b"/>
<rect x="875" y="634" width="1" height="77" fill="#00008b"/>
<rect x="883" y="628" width="1" height="83" fill="#00008b"/>
<rect x="891" y="625" width="1" height="86" fill="#00008b"/>
<rect x="899" y="626" width="1" height="85" fill="#00008b"/>
<rect x="907" y="629" width="1" height="82" fill="#00008b"/>
<rect x="915" y="636" width="1" height="75" fill="#00008b"/>
<rect x="923" y="641" width="1" height="70" fill="#00008b"/>
<rect x="931" y="645" width="1" height="66" fill="#00008b"/>
<rect x="939" y="647" width="1" height="64" fill="#00008b"/>
<rect x="947" y="649" width="1" height="62" fill="#00008b"/>
<rect x="955" y="651" width="1" height="60" fill="#00008b"/>
<rect x="963" y="652" width="1" height="59" fill="#00008b"/>
<rect x="971" y="652" width="1" height="59" fill="#00008b"/>
<rect x="979" y="655" width="1" height="56" fill="#00008b"/>
<rect x="987" y="659" width="1" height="52" fill="#00008b"/>
<rect x="995" y="663" width="1" height="48" fill="#00008b"/>
<rect x="1003" y="675" width="1" height="36" fill="#00008b"/>
<rect x="1011" y="679" width="1" height="32" fill="#00008b"/>
<rect x="1019" y="684" width="1" height="27" fill="#00008b"/>
<rect x="1027" y="688" width="1" height="23" fill="#00008b"/>
<rect x="1035" y="686" width="1" height="25" fill="#00008b"/>
<rect x="1043" y="687" width="1" height="24" fill="#00008b"/>
<rect x="1051" y="682" width="1" height="29" fill="#00008b"/>
<rect x="1059" y="678" width="1" height="33" fill="#00008b"/>
<rect x="1067" y="674" width="1" height="37" fill="#00008b"/>
<rect x="1075" y="672" width="1" height="39" fill="#00008b"/>
<rect x="1083" y="668" width="1" height="43" fill="#00008b"/>
<rect x="1091" y="663" width="1" height="48" fill="#00008b"/>
<rect x="1099" y="656" width="1" height="55" fill="#00008b"/>
<rect x="1107" y="647" width="1" height="64" fill="#00008b"/>
<rect x="1115" y="638" width="1" height="73" fill="#00008b"/>
<rect x="1123" y="633" width="1" height="78" fill="#00008b"/>
<rect x="1131" y="629" width="1" height="82" fill="#00008b"/>
<rect x="1139" y="628" width="1" height="83" fill="#00008b"/>
<rect x="1147" y="630" width="1" height="81" fill="#00008b"/>
<rect x="1155" y="632" width="1" height="79" fill="#00008b"/>
<rect x="1163" y="637" width="1" height="74" fill="#00008b"/>
<rect x="1171" y="641" width="1" height="70" fill="#00008b"/>
<rect x="1179" y="644" width="1" height="67" fill="#00008b"/>
<rect x="1187" y="644" width="1" height="67" fill="#00008b"/>
<rect x="1195" y="643" width="1" height="68" fill="#00008b"/>
<rect x="1203" y="644" width="1" height="67" fill="#00008b"/>
<rect x="1211" y="647" width="1" height="64" fill="#00008b"/>
<rect x="1219" y="653" width="1" height="58" fill="#00008b"/>
<rect x="1227" y="658" width="1" height="53" fill="#00008b"/>
<rect x="1235" y="665" width="1" height="46" fill="#00008b"/>
<rect x="1243" y="675" width="1" height="36" fill="#00008b"/>
<rect x="1251" y="678" width="1" height="33" fill="#00008b"/>
<rect x="1259" y="678" width="1" height="33" fill="#00008b"/>
<rect x="1267" y="679" width="1" height="32" fill="#00008b"/>
<rect x="1275" y="675" width="1" height="36" fill="#00008b"/>
<rect x="1283" y="671" width="1" height="40" fill="#00008b"/>
<rect x="1291" y="672" width="1" height="39" fill="#00008b"/>
<rect x="1299" y="674" width="1" height="37" fill="#00008b"/>
<rect x="1307" y="674" width="1" height="37" fill="#00008b"/>
<rect x="1315" y="672" width="1" height="39" fill="#00008b"/>
<rect x="1323" y="671" width="1" height="40" fill="#00008b"/>
<rect x="1331" y="672" width="1" height="39" fill="#00008b"/>
<rect x="1339" y="673" width="1" height="38" fill="#00008b"/>
<rect x="1347" y="675" width="1" height="36" fill="#00008b"/>
<rect x="1355" y="676" width="1" height="35" fill="#00008b"/>
<rect x="1363" y="678" width="1" height="33" fill="#00008b"/>
<rect x="1371" y="680" width="1" height="31" fill="#00008b"/>
<rect x="1379" y="683" width="1" height="28" fill="#00008b"/>
<rect x="1387" y="684" width="1" height="27" fill="#00008b"/>
<rect x="1395" y="683" width="1" height="28" fill="#00008b"/>
<rect x="1403" y="684" width="1" height="27" fill="#00008b"/>
<rect x="1411" y="687" width="1" height="24" fill="#00008b"/>
<rect x="1419" y="694" width="1" height="17" fill="#00008b"/>
<rect x="1427" y="699" width="1" height="12" fill="#00008b"/>
<rect x="1435" y="703" width="1" height="8" fill="#00008b"/>
<rect x="1443" y="708" width="1" height="3" fill="#00008b"/>
<rect x="1459" y="710" width="1" height="4" fill="#00008b"/>
<rect x="1467" y="710" width="1" height="3" fill="#00008b"/>
<rect x="1475" y="710" width="1" height="3" fill="#00008b"/>
<rect x="1483" y="710" width="1" height="4" fill="#00008b"/>
<rect x="1491" y="710" width="1" height="5" fill="#00008b"/>
<path d="M3 790h2v1h-2zM5 791h4v1h-4zM9 792h3v1h-3zM11 792h1v1h-1zM12 793h2v1h-2zM14 794h1v1h-1zM15 795h2v1h-2zM17 796h2v1h-2zM19 797h1v1h-1zM19 797h1v1h-1zM20 798h1v1h-1zM21 799h1v1h-1zM22 800h1v1h-1zM23 801h1v2h-1zM24 803h1v1h-1zM25 804h1v1h-1zM26 805h1v1h-1zM27 806h1v1h-1zM27 806h1v1h-1zM28 807h1v1h-1zM29 808h1v1h-1zM30 809h1v1h-1zM31 810h2v1h-2zM33 811h1v1h-1zM34 812h1v1h-1zM35 813h1v1h-1zM35 813h2v1h-2zM37 812h4v1h-4zM41 811h3v1h-3zM43 811h1v1h-1zM44 810h2v1h-2zM46 809h1v1h-1zM47 808h2v1h-2zM49 807h2v1h-2zM51 806h1v1h-1zM51 806h2v1h-2zM53 805h4v1h-4zM57 804h3v1h-3zM59 804h1v1h-1zM60 803h1v1h-1zM61 802h1v1h-1zM62 801h1v1h-1zM63 800h1v1h-1zM64 799h1v1h-1zM65 798h1v1h-1zM66 797h1v1h-1zM67 796h1v1h-1zM67 796h1v1h-1zM68 795h1v1h-1zM69 794h2v1h-2zM71 793h1v1h-1zM72 792h1v1h-1zM73 791h2v1h-2zM75 790h1v1h-1zM75 790h2v1h-2zM77 789h4v1h-4zM81 788h3v1h-3zM83 788h9v1h-9zM91 788h2v1h-2zM93 787h4v1h-4zM97 786h3v1h-3zM99 786h1v1h-1zM100 785h2v1h-2zM102 784h1v1h-1zM103 783h2v1h-2zM105 782h2v1h-2zM107 781h1v1h-1zM107 781h1v1h-1zM108 780h1v1h-1zM109 778h1v2h-1zM110 777h1v1h-1zM111 776h1v1h-1zM112 775h1v1h-1zM113 773h1v2h-1zM114 772h1v1h-1zM115 771h1v1h-1zM115 771h1v1h-1zM116 769h1v2h-1zM117 768h1v1h-1zM118 767h1v1h-1zM119 765h1v2h-1zM120 764h1v1h-1zM121 763h1v1h-1zM122 761h1v2h-1zM123 760h1v1h-1zM123 759h1v2h-1zM124 757h1v2h-1zM125 755h1v2h-1zM126 753h1v2h-1zM127 750h1v3h-1zM128 748h1v2h-1zM129 746h1v2h-1zM130 744h1v2h-1zM131 742h1v2h-1zM131 742h1v1h-1zM132 741h1v1h-1zM133 740h1v1h-1zM134 739h1v1h-1zM135 738h2v1h-2zM137 737h1v1h-1zM138 736h1v1h-1zM139 735h1v1h-1zM139 735h2v1h-2zM141 734h4v1h-4zM145 733h3v1h-3zM147 733h2v1h-2zM149 732h2v1h-2zM151 731h3v1h-3zM154 730h2v1h-2zM155 730h1v1h-1zM156 728h1v2h-1zM157 726h1v2h-1zM158 725h1v1h-1zM159 723h1v2h-1zM160 722h1v1h-1zM161 720h1v2h-1zM162 718h1v2h-1zM163 717h1v1h-1zM163 716h1v2h-1zM164 714h1v2h-1zM165 711h1v3h-1zM166 709h1v2h-1zM167 706h1v3h-1zM168 704h1v2h-1zM169 701h1v3h-1zM170 699h1v2h-1zM171 697h1v2h-1zM171 696h1v2h-1zM172 694h1v2h-1zM173 691h1v3h-1zM174 688h1v3h-1zM175 686h1v2h-1zM176 683h1v3h-1zM177 680h1v3h-1zM178 678h1v2h-1zM179 676h1v2h-1zM179 675h1v2h-1zM180 673h1v2h-1zM181 670h1v3h-1zM182 667h1v3h-1zM183 665h1v2h-1zM184 662h1v3h-1zM185 659h1v3h-1zM186 657h1v2h-1zM187 655h1v2h-1zM187 654h1v2h-1zM188 651h1v3h-1zM189 648h1v3h-1zM190 645h1v3h-1zM191 641h1v4h-1zM192 638h1v3h-1zM193 635h1v3h-1zM194 632h1v3h-1zM195 630h1v2h-1zM195 629h1v2h-1zM196 627h1v2h-1zM197 625h1v2h-1zM198 623h1v2h-1zM199 620h1v3h-1zM200 618h1v2h-1zM201 616h1v2h-1zM202 614h1v2h-1zM203 612h1v2h-1zM203 612h1v1h-1zM204 610h1v2h-1zM205 608h1v2h-1zM206 606h1v2h-1zM207 604h1v2h-1zM208 602h1v2h-1zM209 600h1v2h-1zM210 598h1v2h-1zM211 597h1v1h-1zM211 597h1v1h-1zM212 596h2v1h-2zM214 595h2v1h-2zM216 594h2v1h-2zM218 593h2v1h-2zM219 593h9v1h-9zM227 593h2v1h-2zM229 594h2v1h-2zM231 595h3v1h-3zM234 596h2v1h-2zM235 596h2v1h-2zM237 597h2v1h-2zM239 598h3v1h-3zM242 599h2v1h-2zM243 599h1v1h-1zM244 600h2v1h-2zM246 601h1v1h-1zM247 602h2v1h-2zM249 603h2v1h-2zM251 604h1v1h-1zM251 604h1v1h-1zM252 605h1v1h-1zM253 606h1v1h-1zM254 607h1v1h-1zM255 608h1v1h-1zM256 609h1v1h-1zM257 610h1v1h-1zM258 611h1v1h-1zM259 612h1v1h-1zM259 612h1v1h-1zM260 613h1v1h-1zM261 614h2v1h-2zM263 615h1v1h-1zM264 616h1v1h-1zM265 617h2v1h-2zM267 618h1v1h-1zM267 618h1v1h-1zM268 619h1v1h-1zM269 620h1v1h-1zM270 621h1v1h-1zM271 622h1v2h-1zM272 624h1v1h-1zM273 625h1v1h-1zM274 626h1v1h-1zM275 627h1v1h-1zM275 627h1v1h-1zM276 628h2v1h-2zM278 629h1v1h-1zM279 630h2v1h-2zM281 631h2v1h-2zM283 632h1v1h-1zM283 632h2v1h-2zM285 633h2v1h-2zM287 634h3v1h-3zM290 635h2v1h-2zM291 635h1v1h-1zM292 636h2v1h-2zM294 637h2v1h-2zM296 638h2v1h-2zM298 639h2v1h-2zM299 639h1v1h-1zM300 638h2v1h-2zM302 637h1v1h-1zM303 636h2v1h-2zM305 635h2v1h-2zM307 634h1v1h-1zM307 634h1v1h-1zM308 633h2v1h-2zM310 632h2v1h-2zM312 631h2v1h-2zM314 630h2v1h-2zM315 629h1v2h-1zM316 627h1v2h-1zM317 625h1v2h-1zM318 623h1v2h-1zM319 621h1v2h-1zM320 619h1v2h-1zM321 617h1v2h-1zM322 615h1v2h-1zM323 613h1v2h-1zM323 613h1v1h-1zM324 611h1v2h-1zM325 609h1v2h-1zM326 607h1v2h-1zM327 605h1v2h-1zM328 603h1v2h-1zM329 601h1v2h-1zM330 599h1v2h-1zM331 598h1v1h-1zM331 597h1v2h-1zM332 595h1v2h-1zM333 593h1v2h-1zM334 590h1v3h-1zM335 588h1v2h-1zM336 585h1v3h-1zM337 583h1v2h-1zM338 581h1v2h-1zM339 579h1v2h-1zM339 579h1v1h-1zM340 578h2v1h-2zM342 577h1v1h-1zM343 576h2v1h-2zM345 575h2v1h-2zM347 574h1v1h-1zM347 574h1v1h-1zM348 573h1v1h-1zM349 572h2v1h-2zM351 571h1v1h-1zM352 570h1v1h-1zM353 569h2v1h-2zM355 568h1v1h-1zM355 568h1v1h-1zM356 569h1v1h-1zM357 570h1v1h-1zM358 571h1v1h-1zM359 572h2v1h-2zM361 573h1v1h-1zM362 574h1v1h-1zM363 575h1v1h-1zM363 575h2v1h-2zM365 576h2v1h-2zM367 577h3v1h-3zM370 578h2v1h-2zM371 578h4v1h-4zM375 577h5v1h-5zM379 577h1v1h-1zM380 578h2v1h-2zM382 579h2v1h-2zM384 580h2v1h-2zM386 581h2v1h-2zM387 581h1v1h-1zM388 582h1v1h-1zM389 583h2v1h-2zM391 584h1v1h-1zM392 585h1v1h-1zM393 586h2v1h-2zM395 587h1v1h-1zM395 587h2v1h-2zM397 588h4v1h-4zM401 589h3v1h-3zM403 589h9v1h-9zM411 589h2v1h-2zM413 590h4v1h-4zM417 591h3v1h-3zM419 591h1v1h-1zM420 592h2v1h-2zM422 593h2v1h-2zM424 594h2v1h-2zM426 595h2v1h-2zM427 595h1v1h-1zM428 596h1v1h-1zM429 597h1v1h-1zM430 598h1v1h-1zM431 599h2v1h-2zM433 600h1v1h-1zM434 601h1v1h-1zM435 602h1v1h-1zM435 602h1v1h-1zM436 603h2v1h-2zM438 604h1v1h-1zM439 605h2v1h-2zM441 606h2v1h-2zM443 607h1v1h-1zM443 607h1v1h-1zM444 608h2v1h-2zM446 609h2v1h-2zM448 610h2v1h-2zM450 611h2v1h-2zM451 611h1v1h-1zM452 612h2v1h-2zM454 613h2v1h-2zM456 614h2v1h-2zM458 615h2v1h-2zM459 615h1v1h-1zM460 616h1v1h-1zM461 617h2v1h-2zM463 618h1v1h-1zM464 619h1v1h-1zM465 620h2v1h-2zM467 621h1v1h-1zM467 621h1v1h-1zM468 622h2v1h-2zM470 623h1v1h-1zM471 624h2v1h-2zM473 625h2v1h-2zM475 626h1v1h-1zM475 626h1v1h-1zM476 627h1v1h-1zM477 628h1v1h-1zM478 629h1v1h-1zM479 630h1v1h-1zM480 631h1v1h-1zM481 632h1v1h-1zM482 633h1v1h-1zM483 634h1v1h-1zM483 634h1v1h-1zM484 635h1v1h-1zM485 636h1v1h-1zM486 637h1v1h-1zM487 638h1v2h-1zM488 640h1v1h-1zM489 641h1v1h-1zM490 642h1v1h-1zM491 643h1v1h-1zM491 643h1v1h-1zM492 644h2v1h-2zM494 645h2v1h-2zM496 646h2v1h-2zM498 647h2v1h-2zM499 647h2v1h-2zM501 646h2v1h-2zM503 645h3v1h-3zM506 644h2v1h-2zM507 644h2v1h-2zM509 643h2v1h-2zM511 642h3v1h-3zM514 641h2v1h-2zM515 641h2v1h-2zM517 640h4v1h-4zM521 639h3v1h-3zM523 639h2v1h-2zM525 640h4v1h-4zM529 641h3v1h-3zM531 641h1v1h-1zM532 642h1v1h-1zM533 643h2v1h-2zM535 644h1v1h-1zM536 645h1v1h-1zM537 646h2v1h-2zM539 647h1v1h-1zM539 647h1v1h-1zM540 648h1v2h-1zM541 650h1v2h-1zM542 652h1v2h-1zM543 654h1v2h-1zM544 656h1v2h-1zM545 658h1v2h-1zM546 660h1v2h-1zM547 662h1v1h-1zM547 662h1v1h-1zM548 663h1v2h-1zM549 665h1v1h-1zM550 666h1v1h-1zM551 667h1v2h-1zM552 669h1v1h-1zM553 670h1v1h-1zM554 671h1v2h-1zM555 673h1v1h-1zM555 673h1v1h-1zM556 674h1v1h-1zM557 675h1v1h-1zM558 676h1v1h-1zM559 677h1v1h-1zM560 678h1v1h-1zM561 679h1v1h-1zM562 680h1v1h-1zM563 681h1v1h-1zM563 681h1v1h-1zM564 682h1v1h-1zM565 683h1v1h-1zM566 684h1v1h-1zM567 685h1v2h-1zM568 687h1v1h-1zM569 688h1v1h-1zM570 689h1v1h-1zM571 690h1v1h-1zM571 690h1v1h-1zM572 691h1v1h-1zM573 692h1v2h-1zM574 694h1v1h-1zM575 695h1v1h-1zM576 696h1v1h-1zM577 697h1v2h-1zM578 699h1v1h-1zM579 700h1v1h-1zM579 700h1v1h-1zM580 701h1v1h-1zM581 702h2v1h-2zM583 703h1v1h-1zM584 704h1v1h-1zM585 705h2v1h-2zM587 706h1v1h-1zM587 706h1v1h-1zM588 707h2v1h-2zM590 708h2v1h-2zM592 709h2v1h-2zM594 710h2v1h-2zM595 710h2v1h-2zM597 711h2v1h-2zM599 712h3v1h-3zM602 713h2v1h-2zM603 713h1v1h-1zM604 714h2v1h-2zM606 715h1v1h-1zM607 716h2v1h-2zM609 717h2v1h-2zM611 718h1v1h-1zM611 718h1v1h-1zM612 719h2v1h-2zM614 720h2v1h-2zM616 721h2v1h-2zM618 722h2v1h-2zM619 722h4v1h-4zM623 723h5v1h-5zM627 723h1v1h-1zM628 722h2v1h-2zM630 721h2v1h-2zM632 720h2v1h-2zM634 719h2v1h-2zM635 719h1v1h-1zM636 718h1v1h-1zM637 717h1v1h-1zM638 716h1v1h-1zM639 715h2v1h-2zM641 714h1v1h-1zM642 713h1v1h-1zM643 712h1v1h-1zM643 712h2v1h-2zM645 711h2v1h-2zM647 710h3v1h-3zM650 709h2v1h-2zM651 709h2v1h-2zM653 708h4v1h-4zM657 707h3v1h-3zM659 707h2v1h-2zM661 706h2v1h-2zM663 705h3v1h-3zM666 704h2v1h-2zM667 704h1v1h-1zM668 703h1v1h-1zM669 702h1v1h-1zM670 701h1v1h-1zM671 700h2v1h-2zM673 699h1v1h-1zM674 698h1v1h-1zM675 697h1v1h-1zM675 697h1v1h-1zM676 695h1v2h-1zM677 693h1v2h-1zM678 691h1v2h-1zM679 690h1v1h-1zM680 688h1v2h-1zM681 686h1v2h-1zM682 684h1v2h-1zM683 683h1v1h-1zM683 683h1v1h-1zM684 681h1v2h-1zM685 680h1v1h-1zM686 678h1v2h-1zM687 677h1v1h-1zM688 675h1v2h-1zM689 674h1v1h-1zM690 672h1v2h-1zM691 671h1v1h-1zM691 671h1v1h-1zM692 669h1v2h-1zM693 668h1v1h-1zM694 666h1v2h-1zM695 665h1v1h-1zM696 663h1v2h-1zM697 662h1v1h-1zM698 660h1v2h-1zM699 659h1v1h-1zM699 659h1v1h-1zM700 657h1v2h-1zM701 656h1v1h-1zM702 654h1v2h-1zM703 653h1v1h-1zM704 651h1v2h-1zM705 650h1v1h-1zM706 648h1v2h-1zM707 647h1v1h-1zM707 647h1v1h-1zM708 646h1v1h-1zM709 645h1v1h-1zM710 644h1v1h-1zM711 642h1v2h-1zM712 641h1v1h-1zM713 640h1v1h-1zM714 639h1v1h-1zM715 638h1v1h-1zM715 638h1v1h-1zM716 637h1v1h-1zM717 635h1v2h-1zM718 634h1v1h-1zM719 633h1v1h-1zM720 632h1v1h-1zM721 630h1v2h-1zM722 629h1v1h-1zM723 628h1v1h-1zM723 628h1v1h-1zM724 627h2v1h-2zM726 626h2v1h-2zM728 625h2v1h-2zM730 624h2v1h-2zM731 624h1v1h-1zM732 623h1v1h-1zM733 622h2v1h-2zM735 621h1v1h-1zM736 620h1v1h-1zM737 619h2v1h-2zM739 618h1v1h-1zM739 618h2v1h-2zM741 617h4v1h-4zM745 616h3v1h-3zM747 616h2v1h-2zM749 617h4v1h-4zM753 618h3v1h-3zM755 618h2v1h-2zM757 617h2v1h-2zM759 616h3v1h-3zM762 615h2v1h-2zM763 615h2v1h-2zM765 614h2v1h-2zM767 613h3v1h-3zM770 612h2v1h-2zM771 612h4v1h-4zM775 611h5v1h-5zM779 611h4v1h-4zM783 610h5v1h-5zM787 610h4v1h-4zM791 611h5v1h-5zM795 611h4v1h-4zM799 612h5v1h-5zM803 612h2v1h-2zM805 613h2v1h-2zM807 614h3v1h-3zM810 615h2v1h-2zM811 615h1v1h-1zM812 616h2v1h-2zM814 617h2v1h-2zM816 618h2v1h-2zM818 619h2v1h-2zM819 619h1v1h-1zM820 620h2v1h-2zM822 621h1v1h-1zM823 622h2v1h-2zM825 623h2v1h-2zM827 624h1v1h-1zM827 624h1v1h-1zM828 625h2v1h-2zM830 626h1v1h-1zM831 627h2v1h-2zM833 628h2v1h-2zM835 629h1v1h-1zM835 629h1v1h-1zM836 630h1v1h-1zM837 631h2v1h-2zM839 632h1v1h-1zM840 633h1v1h-1zM841 634h2v1h-2zM843 635h1v1h-1zM843 635h1v1h-1zM844 636h2v1h-2zM846 637h2v1h-2zM848 638h2v1h-2zM850 639h2v1h-2zM851 639h2v1h-2zM853 640h2v1h-2zM855 641h3v1h-3zM858 642h2v1h-2zM859 642h2v1h-2zM861 641h2v1h-2zM863 640h3v1h-3zM866 639h2v1h-2zM867 639h1v1h-1zM868 638h2v1h-2zM870 637h1v1h-1zM871 636h2v1h-2zM873 635h2v1h-2zM875 634h1v1h-1zM875 634h1v1h-1zM876 633h1v1h-1zM877 632h2v1h-2zM879 631h1v1h-1zM880 630h1v1h-1zM881 629h2v1h-2zM883 628h1v1h-1zM883 628h2v1h-2zM885 627h2v1h-2zM887 626h3v1h-3zM890 625h2v1h-2zM891 625h4v1h-4zM895 626h5v1h-5zM899 626h2v1h-2zM901 627h2v1h-2zM903 628h3v1h-3zM906 629h2v1h-2zM907 629h1v1h-1zM908 630h1v1h-1zM909 631h1v1h-1zM910 632h1v1h-1zM911 633h2v1h-2zM913 634h1v1h-1zM914 635h1v1h-1zM915 636h1v1h-1zM915 636h1v1h-1zM916 637h2v1h-2zM918 638h1v1h-1zM919 639h2v1h-2zM921 640h2v1h-2zM923 641h1v1h-1zM923 641h1v1h-1zM924 642h2v1h-2zM926 643h2v1h-2zM928 644h2v1h-2zM930 645h2v1h-2zM931 645h2v1h-2zM933 646h4v1h-4zM937 647h3v1h-3zM939 647h2v1h-2zM941 648h4v1h-4zM945 649h3v1h-3zM947 649h2v1h-2zM949 650h4v1h-4zM953 651h3v1h-3zM955 651h4v1h-4zM959 652h5v1h-5zM963 652h9v1h-9zM971 652h2v1h-2zM973 653h2v1h-2zM975 654h3v1h-3zM978 655h2v1h-2zM979 655h1v1h-1zM980 656h2v1h-2zM982 657h2v1h-2zM984 658h2v1h-2zM986 659h2v1h-2zM987 659h1v1h-1zM988 660h2v1h-2zM990 661h2v1h-2zM992 662h2v1h-2zM994 663h2v1h-2zM995 663h1v1h-1zM996 664h1v2h-1zM997 666h1v1h-1zM998 667h1v2h-1zM999 669h1v1h-1zM1000 670h1v2h-1zM1001 672h1v1h-1zM1002 673h1v2h-1zM1003 675h1v1h-1zM1003 675h1v1h-1zM1004 676h2v1h-2zM1006 677h2v1h-2zM1008 678h2v1h-2zM1010 679h2v1h-2zM1011 679h1v1h-1zM1012 680h2v1h-2zM1014 681h1v1h-1zM1015 682h2v1h-2zM1017 683h2v1h-2zM1019 684h1v1h-1zM1019 684h1v1h-1zM1020 685h2v1h-2zM1022 686h2v1h-2zM1024 687h2v1h-2zM1026 688h2v1h-2zM1027 688h2v1h-2zM1029 687h4v1h-4zM1033 686h3v1h-3zM1035 686h4v1h-4zM1039 687h5v1h-5zM1043 687h1v1h-1zM1044 686h2v1h-2zM1046 685h1v1h-1zM1047 684h2v1h-2zM1049 683h2v1h-2zM1051 682h1v1h-1zM1051 682h1v1h-1zM1052 681h2v1h-2zM1054 680h2v1h-2zM1056 679h2v1h-2zM1058 678h2v1h-2zM1059 678h1v1h-1zM1060 677h2v1h-2zM1062 676h2v1h-2zM1064 675h2v1h-2zM1066 674h2v1h-2zM1067 674h2v1h-2zM1069 673h4v1h-4zM1073 672h3v1h-3zM1075 672h1v1h-1zM1076 671h2v1h-2zM1078 670h2v1h-2zM1080 669h2v1h-2zM1082 668h2v1h-2zM1083 668h1v1h-1zM1084 667h2v1h-2zM1086 666h1v1h-1zM1087 665h2v1h-2zM1089 664h2v1h-2zM1091 663h1v1h-1zM1091 663h1v1h-1zM1092 662h1v1h-1zM1093 661h1v1h-1zM1094 660h1v1h-1zM1095 659h2v1h-2zM1097 658h1v1h-1zM1098 657h1v1h-1zM1099 656h1v1h-1zM1099 656h1v1h-1zM1100 655h1v1h-1zM1101 654h1v1h-1zM1102 653h1v1h-1zM1103 651h1v2h-1zM1104 650h1v1h-1zM1105 649h1v1h-1zM1106 648h1v1h-1zM1107 647h1v1h-1zM1107 647h1v1h-1zM1108 646h1v1h-1zM1109 645h1v1h-1zM1110 644h1v1h-1zM1111 642h1v2h-1zM1112 641h1v1h-1zM1113 640h1v1h-1zM1114 639h1v1h-1zM1115 638h1v1h-1zM1115 638h1v1h-1zM1116 637h2v1h-2zM1118 636h1v1h-1zM1119 635h2v1h-2zM1121 634h2v1h-2zM1123 633h1v1h-1zM1123 633h1v1h-1zM1124 632h2v1h-2zM1126 631h2v1h-2zM1128 630h2v1h-2zM1130 629h2v1h-2zM1131 629h4v1h-4zM1135 628h5v1h-5zM1139 628h2v1h-2zM1141 629h4v1h-4zM1145 630h3v1h-3zM1147 630h2v1h-2zM1149 631h4v1h-4zM1153 632h3v1h-3zM1155 632h1v1h-1zM1156 633h2v1h-2zM1158 634h1v1h-1zM1159 635h2v1h-2zM1161 636h2v1h-2zM1163 637h1v1h-1zM1163 637h1v1h-1zM1164 638h2v1h-2zM1166 639h2v1h-2zM1168 640h2v1h-2zM1170 641h2v1h-2zM1171 641h2v1h-2zM1173 642h2v1h-2zM1175 643h3v1h-3zM1178 644h2v1h-2zM1179 644h9v1h-9zM1187 644h4v1h-4zM1191 643h5v1h-5zM1195 643h4v1h-4zM1199 644h5v1h-5zM1203 644h2v1h-2zM1205 645h2v1h-2zM1207 646h3v1h-3zM1210 647h2v1h-2zM1211 647h1v1h-1zM1212 648h1v1h-1zM1213 649h2v1h-2zM1215 650h1v1h-1zM1216 651h1v1h-1zM1217 652h2v1h-2zM1219 653h1v1h-1zM1219 653h1v1h-1zM1220 654h2v1h-2zM1222 655h1v1h-1zM1223 656h2v1h-2zM1225 657h2v1h-2zM1227 658h1v1h-1zM1227 658h1v1h-1zM1228 659h1v1h-1zM1229 660h1v1h-1zM1230 661h1v1h-1zM1231 662h2v1h-2zM1233 663h1v1h-1zM1234 664h1v1h-1zM1235 665h1v1h-1zM1235 665h1v1h-1zM1236 666h1v1h-1zM1237 667h1v2h-1zM1238 669h1v1h-1zM1239 670h1v1h-1zM1240 671h1v1h-1zM1241 672h1v2h-1zM1242 674h1v1h-1zM1243 675h1v1h-1zM1243 675h2v1h-2zM1245 676h2v1h-2zM1247 677h3v1h-3zM1250 678h2v1h-2zM1251 678h9v1h-9zM1259 678h4v1h-4zM1263 679h5v1h-5zM1267 679h1v1h-1zM1268 678h2v1h-2zM1270 677h2v1h-2zM1272 676h2v1h-2zM1274 675h2v1h-2zM1275 675h1v1h-1zM1276 674h2v1h-2zM1278 673h2v1h-2zM1280 672h2v1h-2zM1282 671h2v1h-2zM1283 671h4v1h-4zM1287 672h5v1h-5zM1291 672h2v1h-2zM1293 673h4v1h-4zM1297 674h3v1h-3zM1299 674h9v1h-9zM1307 674h2v1h-2zM1309 673h4v1h-4zM1313 672h3v1h-3zM1315 672h4v1h-4zM1319 671h5v1h-5zM1323 671h4v1h-4zM1327 672h5v1h-5zM1331 672h4v1h-4zM1335 673h5v1h-5zM1339 673h2v1h-2zM1341 674h4v1h-4zM1345 675h3v1h-3zM1347 675h4v1h-4zM1351 676h5v1h-5zM1355 676h2v1h-2zM1357 677h4v1h-4zM1361 678h3v1h-3zM1363 678h2v1h-2zM1365 679h4v1h-4zM1369 680h3v1h-3zM1371 680h2v1h-2zM1373 681h2v1h-2zM1375 682h3v1h-3zM1378 683h2v1h-2zM1379 683h4v1h-4zM1383 684h5v1h-5zM1387 684h4v1h-4zM1391 683h5v1h-5zM1395 683h4v1h-4zM1399 684h5v1h-5zM1403 684h2v1h-2zM1405 685h2v1h-2zM1407 686h3v1h-3zM1410 687h2v1h-2zM1411 687h1v1h-1zM1412 688h1v1h-1zM1413 689h1v1h-1zM1414 690h1v1h-1zM1415 691h2v1h-2zM1417 692h1v1h-1zM1418 693h1v1h-1zM1419 694h1v1h-1zM1419 694h1v1h-1zM1420 695h2v1h-2zM1422 696h1v1h-1zM1423 697h2v1h-2zM1425 698h2v1h-2zM1427 699h1v1h-1zM1427 699h1v1h-1zM1428 700h2v1h-2zM1430 701h2v1h-2zM1432 702h2v1h-2zM1434 703h2v1h-2zM1435 703h1v1h-1zM1436 704h2v1h-2zM1438 705h1v1h-1zM1439 706h2v1h-2zM1441 707h2v1h-2zM1443 708h1v1h-1zM1443 708h2v1h-2zM1445 709h4v1h-4zM1449 710h3v1h-3zM1451 710h2v1h-2zM1453 711h2v1h-2zM1455 712h3v1h-3zM1458 713h2v1h-2zM1459 713h4v1h-4zM1463 712h5v1h-5zM1467 712h9v1h-9zM1475 712h4v1h-4zM1479 713h5v1h-5zM1483 713h4v1h-4zM1487 714h5v1h-5z" fill="#c0c0c0"/>
<path d="M3 757h1v1h-1zM4 758h2v1h-2zM6 759h2v1h-2zM8 760h2v1h-2zM10 761h2v1h-2zM11 761h1v1h-1zM12 762h2v1h-2zM14 763h2v1h-2zM16 764h2v1h-2zM18 765h2v1h-2zM19 765h1v1h-1zM20 766h1v1h-1zM21 767h1v1h-1zM22 768h1v1h-1zM23 769h2v1h-2zM25 770h1v1h-1zM26 771h1v1h-1zM27 772h1v1h-1zM27 772h1v1h-1zM28 773h1v1h-1zM29 774h1v1h-1zM30 775h1v1h-1zM31 776h1v2h-1zM32 778h1v1h-1zM33 779h1v1h-1zM34 780h1v1h-1zM35 781h1v1h-1zM35 781h1v1h-1zM36 782h1v1h-1zM37 783h1v1h-1zM38 784h1v1h-1zM39 785h1v2h-1zM40 787h1v1h-1zM41 788h1v1h-1zM42 789h1v1h-1zM43 790h1v1h-1zM43 790h1v1h-1zM44 791h1v1h-1zM45 792h1v1h-1zM46 793h1v1h-1zM47 794h1v1h-1zM48 795h1v1h-1zM49 796h1v1h-1zM50 797h1v1h-1zM51 798h1v1h-1zM51 798h2v1h-2zM53 799h2v1h-2zM55 800h3v1h-3zM58 801h2v1h-2zM59 801h4v1h-4zM63 802h5v1h-5zM67 802h4v1h-4zM71 803h5v1h-5zM75 803h4v1h-4zM79 802h5v1h-5zM83 802h4v1h-4zM87 801h5v1h-5zM91 801h2v1h-2zM93 800h4v1h-4zM97 799h3v1h-3zM99 799h1v1h-1zM100 798h2v1h-2zM102 797h2v1h-2zM104 796h2v1h-2zM106 795h2v1h-2zM107 795h2v1h-2zM109 794h2v1h-2zM111 793h3v1h-3zM114 792h2v1h-2zM115 792h1v1h-1zM116 791h2v1h-2zM118 790h1v1h-1zM119 789h2v1h-2zM121 788h2v1h-2zM123 787h1v1h-1zM123 787h1v1h-1zM124 786h1v1h-1zM125 785h1v1h-1zM126 784h1v1h-1zM127 783h2v1h-2zM129 782h1v1h-1zM130 781h1v1h-1zM131 780h1v1h-1zM131 780h1v1h-1zM132 779h1v1h-1zM133 778h1v1h-1zM134 777h1v1h-1zM135 776h1v1h-1zM136 775h1v1h-1zM137 774h1v1h-1zM138 773h1v1h-1zM139 772h1v1h-1zM139 772h1v1h-1zM140 771h1v1h-1zM141 770h1v1h-1zM142 769h1v1h-1zM143 768h2v1h-2zM145 767h1v1h-1zM146 766h1v1h-1zM147 765h1v1h-1zM147 765h1v1h-1zM148 764h1v1h-1zM149 763h2v1h-2zM151 762h1v1h-1zM152 761h1v1h-1zM153 760h2v1h-2zM155 759h1v1h-1zM155 759h1v1h-1zM156 758h1v1h-1zM157 757h1v1h-1zM158 756h1v1h-1zM159 755h1v1h-1zM160 754h1v1h-1zM161 753h1v1h-1zM162 752h1v1h-1zM163 751h1v1h-1zM163 751h1v1h-1zM164 750h1v1h-1zM165 748h1v2h-1zM166 747h1v1h-1zM167 746h1v1h-1zM168 745h1v1h-1zM169 743h1v2h-1zM170 742h1v1h-1zM171 741h1v1h-1zM171 741h1v1h-1zM172 739h1v2h-1zM173 738h1v1h-1zM174 736h1v2h-1zM175 735h1v1h-1zM176 733h1v2h-1zM177 732h1v1h-1zM178 730h1v2h-1zM179 729h1v1h-1zM179 729h1v1h-1zM180 727h1v2h-1zM181 726h1v1h-1zM182 724h1v2h-1zM183 723h1v1h-1zM184 721h1v2h-1zM185 720h1v1h-1zM186 718h1v2h-1zM187 717h1v1h-1zM187 717h1v1h-1zM188 715h1v2h-1zM189 713h1v2h-1zM190 711h1v2h-1zM191 710h1v1h-1zM192 708h1v2h-1zM193 706h1v2h-1zM194 704h1v2h-1zM195 703h1v1h-1zM195 703h1v1h-1zM196 701h1v2h-1zM197 699h1v2h-1zM198 697h1v2h-1zM199 695h1v2h-1zM200 693h1v2h-1zM201 691h1v2h-1zM202 689h1v2h-1zM203 687h1v2h-1zM203 687h1v1h-1zM204 685h1v2h-1zM205 683h1v2h-1zM206 681h1v2h-1zM207 679h1v2h-1zM208 677h1v2h-1zM209 675h1v2h-1zM210 673h1v2h-1zM211 671h1v2h-1zM211 671h1v1h-1zM212 669h1v2h-1zM213 667h1v2h-1zM214 665h1v2h-1zM215 663h1v2h-1zM216 661h1v2h-1zM217 659h1v2h-1zM218 657h1v2h-1zM219 655h1v2h-1zM219 655h1v1h-1zM220 653h1v2h-1zM221 651h1v2h-1zM222 649h1v2h-1zM223 647h1v2h-1zM224 645h1v2h-1zM225 643h1v2h-1zM226 641h1v2h-1zM227 639h1v2h-1zM227 639h1v1h-1zM228 637h1v2h-1zM229 635h1v2h-1zM230 634h1v1h-1zM231 632h1v2h-1zM232 631h1v1h-1zM233 629h1v2h-1zM234 627h1v2h-1zM235 626h1v1h-1zM235 626h1v1h-1zM236 624h1v2h-1zM237 623h1v1h-1zM238 622h1v1h-1zM239 620h1v2h-1zM240 619h1v1h-1zM241 618h1v1h-1zM242 616h1v2h-1zM243 615h1v1h-1zM243 615h1v1h-1zM244 614h1v1h-1zM245 613h1v1h-1zM246 612h1v1h-1zM247 611h1v1h-1zM248 610h1v1h-1zM249 609h1v1h-1zM250 608h1v1h-1zM251 607h1v1h-1zM251 607h1v1h-1zM252 606h2v1h-2zM254 605h2v1h-2zM256 604h2v1h-2zM258 603h2v1h-2zM259 603h4v1h-4zM263 602h5v1h-5zM267 602h4v1h-4zM271 603h5v1h-5zM275 603h1v1h-1zM276 604h2v1h-2zM278 605h2v1h-2zM280 606h2v1h-2zM282 607h2v1h-2zM283 607h1v1h-1zM284 608h2v1h-2zM286 609h2v1h-2zM288 610h2v1h-2zM290 611h2v1h-2zM291 611h1v1h-1zM292 612h2v1h-2zM294 613h1v1h-1zM295 614h2v1h-2zM297 615h2v1h-2zM299 616h1v1h-1zM299 616h1v1h-1zM300 617h2v1h-2zM302 618h1v1h-1zM303 619h2v1h-2zM305 620h2v1h-2zM307 621h1v1h-1zM307 621h2v1h-2zM309 622h2v1h-2zM311 623h3v1h-3zM314 624h2v1h-2zM315 624h4v1h-4zM319 625h5v1h-5zM323 625h4v1h-4zM327 624h5v1h-5zM331 624h1v1h-1zM332 623h2v1h-2zM334 622h2v1h-2zM336 621h2v1h-2zM338 620h2v1h-2zM339 620h1v1h-1zM340 619h1v1h-1zM341 618h2v1h-2zM343 617h1v1h-1zM344 616h1v1h-1zM345 615h2v1h-2zM347 614h1v1h-1zM347 614h1v1h-1zM348 613h1v1h-1zM349 612h1v1h-1zM350 611h1v1h-1zM351 610h2v1h-2zM353 609h1v1h-1zM354 608h1v1h-1zM355 607h1v1h-1zM355 607h1v1h-1zM356 606h1v1h-1zM357 605h1v1h-1zM358 604h1v1h-1zM359 603h2v1h-2zM361 602h1v1h-1zM362 601h1v1h-1zM363 600h1v1h-1zM363 600h1v1h-1zM364 599h1v1h-1zM365 598h1v1h-1zM366 597h1v1h-1zM367 596h2v1h-2zM369 595h1v1h-1zM370 594h1v1h-1zM371 593h1v1h-1zM371 593h1v1h-1zM372 592h1v1h-1zM373 591h2v1h-2zM375 590h1v1h-1zM376 589h1v1h-1zM377 588h2v1h-2zM379 587h1v1h-1zM379 587h1v1h-1zM380 586h2v1h-2zM382 585h1v1h-1zM383 584h2v1h-2zM385 583h2v1h-2zM387 582h1v1h-1zM387 582h2v1h-2zM389 581h2v1h-2zM391 580h3v1h-3zM394 579h2v1h-2zM395 579h4v1h-4zM399 578h5v1h-5zM403 578h9v1h-9zM411 578h2v1h-2zM413 579h4v1h-4zM417 580h3v1h-3zM419 580h2v1h-2zM421 581h2v1h-2zM423 582h3v1h-3zM426 583h2v1h-2zM427 583h2v1h-2zM429 584h2v1h-2zM431 585h3v1h-3zM434 586h2v1h-2zM435 586h1v1h-1zM436 587h2v1h-2zM438 588h2v1h-2zM440 589h2v1h-2zM442 590h2v1h-2zM443 590h1v1h-1zM444 591h2v1h-2zM446 592h2v1h-2zM448 593h2v1h-2zM450 594h2v1h-2zM451 594h1v1h-1zM452 595h2v1h-2zM454 596h2v1h-2zM456 597h2v1h-2zM458 598h2v1h-2zM459 598h2v1h-2zM461 599h2v1h-2zM463 600h3v1h-3zM466 601h2v1h-2zM467 601h1v1h-1zM468 602h2v1h-2zM470 603h1v1h-1zM471 604h2v1h-2zM473 605h2v1h-2zM475 606h1v1h-1zM475 606h1v1h-1zM476 607h2v1h-2zM478 608h1v1h-1zM479 609h2v1h-2zM481 610h2v1h-2zM483 611h1v1h-1zM483 611h1v1h-1zM484 612h2v1h-2zM486 613h1v1h-1zM487 614h2v1h-2zM489 615h2v1h-2zM491 616h1v1h-1zM491 616h1v1h-1zM492 617h1v1h-1zM493 618h2v1h-2zM495 619h1v1h-1zM496 620h1v1h-1zM497 621h2v1h-2zM499 622h1v1h-1zM499 622h1v1h-1zM500 623h2v1h-2zM502 624h1v1h-1zM503 625h2v1h-2zM505 626h2v1h-2zM507 627h1v1h-1zM507 627h2v1h-2zM509 628h2v1h-2zM511 629h3v1h-3zM514 630h2v1h-2zM515 630h2v1h-2zM517 631h2v1h-2zM519 632h3v1h-3zM522 633h2v1h-2zM523 633h2v1h-2zM525 634h2v1h-2zM527 635h3v1h-3zM530 636h2v1h-2zM531 636h2v1h-2zM533 637h2v1h-2zM535 638h3v1h-3zM538 639h2v1h-2zM539 639h1v1h-1zM540 640h2v1h-2zM542 641h2v1h-2zM544 642h2v1h-2zM546 643h2v1h-2zM547 643h1v1h-1zM548 644h2v1h-2zM550 645h2v1h-2zM552 646h2v1h-2zM554 647h2v1h-2zM555 647h1v1h-1zM556 648h2v1h-2zM558 649h2v1h-2zM560 650h2v1h-2zM562 651h2v1h-2zM563 651h1v1h-1zM564 652h2v1h-2zM566 653h1v1h-1zM567 654h2v1h-2zM569 655h2v1h-2zM571 656h1v1h-1zM571 656h1v1h-1zM572 657h1v1h-1zM573 658h2v1h-2zM575 659h1v1h-1zM576 660h1v1h-1zM577 661h2v1h-2zM579 662h1v1h-1zM579 662h1v1h-1zM580 663h1v1h-1zM581 664h1v1h-1zM582 665h1v1h-1zM583 666h1v1h-1zM584 667h1v1h-1zM585 668h1v1h-1zM586 669h1v1h-1zM587 670h1v1h-1zM587 670h1v1h-1zM588 671h1v1h-1zM589 672h1v1h-1zM590 673h1v1h-1zM591 674h1v1h-1zM592 675h1v1h-1zM593 676h1v1h-1zM594 677h1v1h-1zM595 678h1v1h-1zM595 678h1v1h-1zM596 679h1v1h-1zM597 680h1v1h-1zM598 681h1v1h-1zM599 682h1v1h-1zM600 683h1v1h-1zM601 684h1v1h-1zM602 685h1v1h-1zM603 686h1v1h-1zM603 686h1v1h-1zM604 687h1v1h-1zM605 688h1v1h-1zM606 689h1v1h-1zM607 690h1v2h-1zM608 692h1v1h-1zM609 693h1v1h-1zM610 694h1v1h-1zM611 695h1v1h-1zM611 695h1v1h-1zM612 696h1v1h-1zM613 697h1v1h-1zM614 698h1v1h-1zM615 699h2v1h-2zM617 700h1v1h-1zM618 701h1v1h-1zM619 702h1v1h-1zM619 702h1v1h-1zM620 703h2v1h-2zM622 704h1v1h-1zM623 705h2v1h-2zM625 706h2v1h-2zM627 707h1v1h-1zM627 707h2v1h-2zM629 708h2v1h-2zM631 709h3v1h-3zM634 710h2v1h-2zM635 710h2v1h-2zM637 711h4v1h-4zM641 712h3v1h-3zM643 712h2v1h-2zM645 713h4v1h-4zM649 714h3v1h-3zM651 714h4v1h-4zM655 715h5v1h-5zM659 715h4v1h-4zM663 714h5v1h-5zM667 714h2v1h-2zM669 713h4v1h-4zM673 712h3v1h-3zM675 712h1v1h-1zM676 711h2v1h-2zM678 710h2v1h-2zM680 709h2v1h-2zM682 708h2v1h-2zM683 708h1v1h-1zM684 707h1v1h-1zM685 706h2v1h-2zM687 705h1v1h-1zM688 704h1v1h-1zM689 703h2v1h-2zM691 702h1v1h-1zM691 702h1v1h-1zM692 701h1v1h-1zM693 700h1v1h-1zM694 699h1v1h-1zM695 698h2v1h-2zM697 697h1v1h-1zM698 696h1v1h-1zM699 695h1v1h-1zM699 695h1v1h-1zM700 694h1v1h-1zM701 693h1v1h-1zM702 692h1v1h-1zM703 691h2v1h-2zM705 690h1v1h-1zM706 689h1v1h-1zM707 688h1v1h-1zM707 688h1v1h-1zM708 687h1v1h-1zM709 686h1v1h-1zM710 685h1v1h-1zM711 684h1v1h-1zM712 683h1v1h-1zM713 682h1v1h-1zM714 681h1v1h-1zM715 680h1v1h-1zM715 680h1v1h-1zM716 679h1v1h-1zM717 678h1v1h-1zM718 677h1v1h-1zM719 675h1v2h-1zM720 674h1v1h-1zM721 673h1v1h-1zM722 672h1v1h-1zM723 671h1v1h-1zM723 671h1v1h-1zM724 670h1v1h-1zM725 668h1v2h-1zM726 667h1v1h-1zM727 666h1v1h-1zM728 665h1v1h-1zM729 663h1v2h-1zM730 662h1v1h-1zM731 661h1v1h-1zM731 661h1v1h-1zM732 660h1v1h-1zM733 659h1v1h-1zM734 658h1v1h-1zM735 656h1v2h-1zM736 655h1v1h-1zM737 654h1v1h-1zM738 653h1v1h-1zM739 652h1v1h-1zM739 652h1v1h-1zM740 651h1v1h-1zM741 650h1v1h-1zM742 649h1v1h-1zM743 647h1v2h-1zM744 646h1v1h-1zM745 645h1v1h-1zM746 644h1v1h-1zM747 643h1v1h-1zM747 643h1v1h-1zM748 642h1v1h-1zM749 641h1v1h-1zM750 640h1v1h-1zM751 639h1v1h-1zM752 638h1v1h-1zM753 637h1v1h-1zM754 636h1v1h-1zM755 635h1v1h-1zM755 635h1v1h-1zM756 634h1v1h-1zM757 633h1v1h-1zM758 632h1v1h-1zM759 631h2v1h-2zM761 630h1v1h-1zM762 629h1v1h-1zM763 628h1v1h-1zM763 628h1v1h-1zM764 627h1v1h-1zM765 626h2v1h-2zM767 625h1v1h-1zM768 624h1v1h-1zM769 623h2v1h-2zM771 622h1v1h-1zM771 622h1v1h-1zM772 621h2v1h-2zM774 620h2v1h-2zM776 619h2v1h-2zM778 618h2v1h-2zM779 618h2v1h-2zM781 617h4v1h-4zM785 616h3v1h-3zM787 616h4v1h-4zM791 615h5v1h-5zM795 615h2v1h-2zM797 614h4v1h-4zM801 613h3v1h-3zM803 613h9v1h-9zM811 613h9v1h-9zM819 613h9v1h-9zM827 613h4v1h-4zM831 614h5v1h-5zM835 614h2v1h-2zM837 615h2v1h-2zM839 616h3v1h-3zM842 617h2v1h-2zM843 617h2v1h-2zM845 618h2v1h-2zM847 619h3v1h-3zM850 620h2v1h-2zM851 620h2v1h-2zM853 621h2v1h-2zM855 622h3v1h-3zM858 623h2v1h-2zM859 623h1v1h-1zM860 624h2v1h-2zM862 625h2v1h-2zM864 626h2v1h-2zM866 627h2v1h-2zM867 627h2v1h-2zM869 628h4v1h-4zM873 629h3v1h-3zM875 629h2v1h-2zM877 630h2v1h-2zM879 631h3v1h-3zM882 632h2v1h-2zM883 632h9v1h-9zM891 632h4v1h-4zM895 633h5v1h-5zM899 633h9v1h-9zM907 633h9v1h-9zM915 633h9v1h-9zM923 633h9v1h-9zM931 633h4v1h-4zM935 634h5v1h-5zM939 634h4v1h-4zM943 635h5v1h-5zM947 635h2v1h-2zM949 636h2v1h-2zM951 637h3v1h-3zM954 638h2v1h-2zM955 638h2v1h-2zM957 639h2v1h-2zM959 640h3v1h-3zM962 641h2v1h-2zM963 641h2v1h-2zM965 642h4v1h-4zM969 643h3v1h-3zM971 643h2v1h-2zM973 644h2v1h-2zM975 645h3v1h-3zM978 646h2v1h-2zM979 646h2v1h-2zM981 647h2v1h-2zM983 648h3v1h-3zM986 649h2v1h-2zM987 649h2v1h-2zM989 650h4v1h-4zM993 651h3v1h-3zM995 651h1v1h-1zM996 652h2v1h-2zM998 653h2v1h-2zM1000 654h2v1h-2zM1002 655h2v1h-2zM1003 655h2v1h-2zM1005 656h2v1h-2zM1007 657h3v1h-3zM1010 658h2v1h-2zM1011 658h2v1h-2zM1013 659h2v1h-2zM1015 660h3v1h-3zM1018 661h2v1h-2zM1019 661h1v1h-1zM1020 662h2v1h-2zM1022 663h2v1h-2zM1024 664h2v1h-2zM1026 665h2v1h-2zM1027 665h1v1h-1zM1028 666h2v1h-2zM1030 667h2v1h-2zM1032 668h2v1h-2zM1034 669h2v1h-2zM1035 669h1v1h-1zM1036 670h2v1h-2zM1038 671h2v1h-2zM1040 672h2v1h-2zM1042 673h2v1h-2zM1043 673h1v1h-1zM1044 674h2v1h-2zM1046 675h2v1h-2zM1048 676h2v1h-2zM1050 677h2v1h-2zM1051 677h2v1h-2zM1053 678h4v1h-4zM1057 679h3v1h-3zM1059 679h2v1h-2zM1061 680h4v1h-4zM1065 681h3v1h-3zM1067 681h9v1h-9zM1075 681h2v1h-2zM1077 680h4v1h-4zM1081 679h3v1h-3zM1083 679h2v1h-2zM1085 678h4v1h-4zM1089 677h3v1h-3zM1091 677h1v1h-1zM1092 676h2v1h-2zM1094 675h2v1h-2zM1096 674h2v1h-2zM1098 673h2v1h-2zM1099 673h1v1h-1zM1100 672h2v1h-2zM1102 671h2v1h-2zM1104 670h2v1h-2zM1106 669h2v1h-2zM1107 669h1v1h-1zM1108 668h1v1h-1zM1109 667h2v1h-2zM1111 666h1v1h-1zM1112 665h1v1h-1zM1113 664h2v1h-2zM1115 663h1v1h-1zM1115 663h1v1h-1zM1116 662h1v1h-1zM1117 661h2v1h-2zM1119 660h1v1h-1zM1120 659h1v1h-1zM1121 658h2v1h-2zM1123 657h1v1h-1zM1123 657h1v1h-1zM1124 656h2v1h-2zM1126 655h2v1h-2zM1128 654h2v1h-2zM1130 653h2v1h-2zM1131 653h1v1h-1zM1132 652h2v1h-2zM1134 651h1v1h-1zM1135 650h2v1h-2zM1137 649h2v1h-2zM1139 648h1v1h-1zM1139 648h1v1h-1zM1140 647h2v1h-2zM1142 646h2v1h-2zM1144 645h2v1h-2zM1146 644h2v1h-2zM1147 644h1v1h-1zM1148 643h2v1h-2zM1150 642h2v1h-2zM1152 641h2v1h-2zM1154 640h2v1h-2zM1155 640h2v1h-2zM1157 639h2v1h-2zM1159 638h3v1h-3zM1162 637h2v1h-2zM1163 637h2v1h-2zM1165 636h4v1h-4zM1169 635h3v1h-3zM1171 635h9v1h-9zM1179 635h9v1h-9zM1187 635h4v1h-4zM1191 636h5v1h-5zM1195 636h4v1h-4zM1199 637h5v1h-5zM1203 637h2v1h-2zM1205 638h4v1h-4zM1209 639h3v1h-3zM1211 639h2v1h-2zM1213 640h4v1h-4zM1217 641h3v1h-3zM1219 641h2v1h-2zM1221 642h2v1h-2zM1223 643h3v1h-3zM1226 644h2v1h-2zM1227 644h2v1h-2zM1229 645h2v1h-2zM1231 646h3v1h-3zM1234 647h2v1h-2zM1235 647h1v1h-1zM1236 648h2v1h-2zM1238 649h2v1h-2zM1240 650h2v1h-2zM1242 651h2v1h-2zM1243 651h1v1h-1zM1244 652h2v1h-2zM1246 653h2v1h-2zM1248 654h2v1h-2zM1250 655h2v1h-2zM1251 655h1v1h-1zM1252 656h2v1h-2zM1254 657h2v1h-2zM1256 658h2v1h-2zM1258 659h2v1h-2zM1259 659h1v1h-1zM1260 660h2v1h-2zM1262 661h2v1h-2zM1264 662h2v1h-2zM1266 663h2v1h-2zM1267 663h1v1h-1zM1268 664h2v1h-2zM1270 665h2v1h-2zM1272 666h2v1h-2zM1274 667h2v1h-2zM1275 667h2v1h-2zM1277 668h2v1h-2zM1279 669h3v1h-3zM1282 670h2v1h-2zM1283 670h2v1h-2zM1285 671h4v1h-4zM1289 672h3v1h-3zM1291 672h4v1h-4zM1295 673h5v1h-5zM1299 673h4v1h-4zM1303 674h5v1h-5zM1307 674h9v1h-9zM1315 674h9v1h-9zM1323 674h4v1h-4zM1327 673h5v1h-5zM1331 673h4v1h-4zM1335 672h5v1h-5zM1339 672h9v1h-9zM1347 672h4v1h-4zM1351 673h5v1h-5zM1355 673h4v1h-4zM1359 674h5v1h-5zM1363 674h9v1h-9zM1371 674h4v1h-4zM1375 675h5v1h-5zM1379 675h2v1h-2zM1381 676h4v1h-4zM1385 677h3v1h-3zM1387 677h4v1h-4zM1391 678h5v1h-5zM1395 678h4v1h-4zM1399 679h5v1h-5zM1403 679h4v1h-4zM1407 680h5v1h-5zM1411 680h2v1h-2zM1413 681h2v1h-2zM1415 682h3v1h-3zM1418 683h2v1h-2zM1419 683h2v1h-2zM1421 684h4v1h-4zM1425 685h3v1h-3zM1427 685h2v1h-2zM1429 686h4v1h-4zM1433 687h3v1h-3zM1435 687h1v1h-1zM1436 688h2v1h-2zM1438 689h2v1h-2zM1440 690h2v1h-2zM1442 691h2v1h-2zM1443 691h2v1h-2zM1445 692h2v1h-2zM1447 693h3v1h-3zM1450 694h2v1h-2zM1451 694h1v1h-1zM1452 695h2v1h-2zM1454 696h2v1h-2zM1456 697h2v1h-2zM1458 698h2v1h-2zM1459 698h2v1h-2zM1461 699h4v1h-4zM1465 700h3v1h-3zM1467 700h2v1h-2zM1469 701h2v1h-2zM1471 702h3v1h-3zM1474 703h2v1h-2zM1475 703h1v1h-1zM1476 704h2v1h-2zM1478 705h2v1h-2zM1480 706h2v1h-2zM1482 707h2v1h-2zM1483 707h2v1h-2zM1485 708h2v1h-2zM1487 709h3v1h-3zM1490 710h2v1h-2z" fill="#000"/>
</g>
<rect x="2" y="2" width="1508" height="1" fill="#000"/>
<rect x="2" y="2" width="1" height="550" fill="#000"/>
<rect x="2" y="551" width="1508" height="1" fill="#000"/>
<rect x="1509" y="2" width="1" height="550" fill="#000"/>
<rect x="1509" y="553" width="1" height="274" fill="#000"/>
<rect x="2" y="553" width="1508" height="1" fill="#000"/>
<rect x="2" y="553" width="1" height="274" fill="#000"/>
<rect x="2" y="826" width="1508" height="1" fill="#000"/>
<rect x="6" y="10" width="9" height="1" fill="#000"/>
<rect x="7" y="11" width="7" height="1" fill="#000"/>
<rect x="8" y="12" width="5" height="1" fill="#000"/>
<rect x="9" y="13" width="3" height="1" fill="#000"/>
<rect x="10" y="14" width="1" height="1" fill="#000"/>
<text x="22" y="17" style="letter-spacing:-0.4px">YM,H1</text>
<text x="65" y="17">32832</text>
<text x="104" y="17">32844</text>
<text x="143" y="17">32821</text>
<text x="182" y="17">32842</text>
<text x="7" y="569" style="letter-spacing:0.15px">MACD(12,26,9)</text>
<text x="96.5" y="569">-5.8</text>
<text x="123" y="569">0.5</text>
<text x="148" y="569" style="letter-spacing:0.5px">-&gt;MA(1)</text>
<text x="199.5" y="569">-5.8</text>
<rect x="1510" y="41" width="2" height="1" fill="#000"/>
<text x="1516" y="46">32915</text>
<rect x="1510" y="90" width="2" height="1" fill="#000"/>
<text x="1516" y="95">32690</text>
<rect x="1510" y="139" width="2" height="1" fill="#000"/>
<text x="1516" y="144">32465</text>
<rect x="1510" y="188" width="2" height="1" fill="#000"/>
<text x="1516" y="193">32240</text>
<rect x="1510" y="237" width="2" height="1" fill="#000"/>
<text x="1516" y="242">32015</text>
<rect x="1510" y="286" width="2" height="1" fill="#000"/>
<text x="1516" y="291">31790</text>
<rect x="1510" y="335" width="2" height="1" fill="#000"/>
<text x="1516" y="340">31565</text>
<rect x="1510" y="385" width="2" height="1" fill="#000"/>
<text x="1516" y="390">31340</text>
<rect x="1510" y="434" width="2" height="1" fill="#000"/>
<text x="1516" y="439">31115</text>
<rect x="1510" y="483" width="2" height="1" fill="#000"/>
<text x="1516" y="488">30890</text>
<rect x="1510" y="532" width="2" height="1" fill="#000"/>
<text x="1516" y="537">30665</text>
<rect x="1511" y="50" width="45" height="14" fill="#000"/>
<text x="1516" y="62" style="fill:#fff;stroke:#fff">32842</text>
<rect x="1511" y="94" width="45" height="14" fill="#ff0000"/>
<text x="1516" y="106" style="fill:#fff;stroke:#fff">32641</text>
<rect x="1511" y="213" width="45" height="14" fill="#ff0000"/>
<text x="1516" y="225" style="fill:#fff;stroke:#fff">32100</text>
<rect x="1510" y="555" width="1" height="1" fill="#000"/>
<text x="1513" y="567">205.8</text>
<rect x="1510" y="710" width="2" height="1" fill="#000"/>
<text x="1513" y="715">0.00</text>
<rect x="1510" y="825" width="1" height="1" fill="#000"/>
<text x="1513" y="823">-153.5</text>
<rect x="3" y="827" width="1" height="3" fill="#000"/>
<text x="2" y="842" style="letter-spacing:0.2px">4 Mar 2021</text>
<rect x="99" y="827" width="1" height="3" fill="#000"/>
<text x="98" y="842" style="letter-spacing:0.2px">5 Mar 11:00</text>
<rect x="195" y="827" width="1" height="3" fill="#000"/>
<text x="194" y="842" style="letter-spacing:0.2px">8 Mar 01:00</text>
<rect x="291" y="827" width="1" height="3" fill="#000"/>
<text x="290" y="842" style="letter-spacing:0.2px">8 Mar 13:00</text>
<rect x="387" y="827" width="1" height="3" fill="#000"/>
<text x="386" y="842" style="letter-spacing:0.2px">9 Mar 02:00</text>
<rect x="483" y="827" width="1" height="3" fill="#000"/>
<text x="482" y="842" style="letter-spacing:0.2px">9 Mar 14:00</text>
<rect x="579" y="827" width="1" height="3" fill="#000"/>
<text x="578" y="842" style="letter-spacing:0.2px">10 Mar 03:00</text>
<rect x="675" y="827" width="1" height="3" fill="#000"/>
<text x="674" y="842" style="letter-spacing:0.2px">10 Mar 15:00</text>
<rect x="771" y="827" width="1" height="3" fill="#000"/>
<text x="770" y="842" style="letter-spacing:0.2px">11 Mar 04:00</text>
<rect x="867" y="827" width="1" height="3" fill="#000"/>
<text x="866" y="842" style="letter-spacing:0.2px">11 Mar 16:00</text>
<rect x="963" y="827" width="1" height="3" fill="#000"/>
<text x="962" y="842" style="letter-spacing:0.2px">12 Mar 05:00</text>
<rect x="1059" y="827" width="1" height="3" fill="#000"/>
<text x="1058" y="842" style="letter-spacing:0.2px">12 Mar 17:00</text>
<rect x="1155" y="827" width="1" height="3" fill="#000"/>
<text x="1154" y="842" style="letter-spacing:0.2px">15 Mar 07:00</text>
<rect x="1251" y="827" width="1" height="3" fill="#000"/>
<text x="1250" y="842" style="letter-spacing:0.2px">15 Mar 19:00</text>
<rect x="1347" y="827" width="1" height="3" fill="#000"/>
<text x="1346" y="842" style="letter-spacing:0.2px">16 Mar 08:00</text>
<rect x="1443" y="827" width="1" height="3" fill="#000"/>
<text x="1442" y="842" style="letter-spacing:0.2px">16 Mar 20:00</text>
</svg></body></html>
